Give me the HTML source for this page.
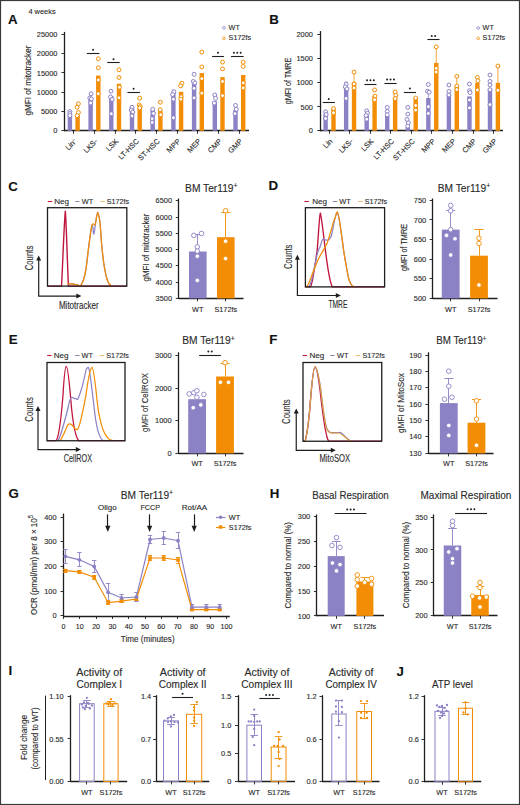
<!DOCTYPE html>
<html><head><meta charset="utf-8"><style>
html,body{margin:0;padding:0;background:#fff;}
svg{display:block;}
text{font-family:"Liberation Sans",sans-serif;stroke:#2a2a2a;stroke-width:0.12px;}
</style></head><body>
<svg width="520" height="805" viewBox="0 0 520 805">
<rect width="520" height="805" fill="#fff"/>
<rect x="0.5" y="0.5" width="519" height="804" fill="none" stroke="#3a3a3a" stroke-width="1.2"/>
<text x="8.00" y="23.80" font-size="13.3" text-anchor="start" fill="#111" font-weight="bold" >A</text>
<text x="269.30" y="24.30" font-size="13.3" text-anchor="start" fill="#111" font-weight="bold" >B</text>
<text x="8.20" y="190.50" font-size="13.3" text-anchor="start" fill="#111" font-weight="bold" >C</text>
<text x="268.40" y="189.70" font-size="13.3" text-anchor="start" fill="#111" font-weight="bold" >D</text>
<text x="8.80" y="343.70" font-size="13.3" text-anchor="start" fill="#111" font-weight="bold" >E</text>
<text x="269.30" y="343.70" font-size="13.3" text-anchor="start" fill="#111" font-weight="bold" >F</text>
<text x="8.60" y="498.00" font-size="13.3" text-anchor="start" fill="#111" font-weight="bold" >G</text>
<text x="269.80" y="498.40" font-size="13.3" text-anchor="start" fill="#111" font-weight="bold" >H</text>
<text x="8.50" y="675.00" font-size="13.3" text-anchor="start" fill="#111" font-weight="bold" >I</text>
<text x="396.50" y="675.50" font-size="13.3" text-anchor="start" fill="#111" font-weight="bold" >J</text>
<text x="28.40" y="14.20" font-size="7.8" text-anchor="start" fill="#2a2a2a" textLength="27.2" lengthAdjust="spacingAndGlyphs" >4 weeks</text>
<line x1="64.50" y1="31.90" x2="64.50" y2="131.30" stroke="#1e1e1e" stroke-width="1.3" />
<line x1="61.40" y1="34.50" x2="64.40" y2="34.50" stroke="#1e1e1e" stroke-width="0.9" />
<text x="57.40" y="37.00" font-size="7.4" text-anchor="end" fill="#2a2a2a" >25000</text>
<line x1="61.40" y1="53.50" x2="64.40" y2="53.50" stroke="#1e1e1e" stroke-width="0.9" />
<text x="57.40" y="56.30" font-size="7.4" text-anchor="end" fill="#2a2a2a" >20000</text>
<line x1="61.40" y1="72.50" x2="64.40" y2="72.50" stroke="#1e1e1e" stroke-width="0.9" />
<text x="57.40" y="75.55" font-size="7.4" text-anchor="end" fill="#2a2a2a" >15000</text>
<line x1="61.40" y1="92.50" x2="64.40" y2="92.50" stroke="#1e1e1e" stroke-width="0.9" />
<text x="57.40" y="94.80" font-size="7.4" text-anchor="end" fill="#2a2a2a" >10000</text>
<line x1="61.40" y1="111.50" x2="64.40" y2="111.50" stroke="#1e1e1e" stroke-width="0.9" />
<text x="57.40" y="114.10" font-size="7.4" text-anchor="end" fill="#2a2a2a" >5000</text>
<line x1="61.40" y1="130.50" x2="64.40" y2="130.50" stroke="#1e1e1e" stroke-width="0.9" />
<text x="57.40" y="133.40" font-size="7.4" text-anchor="end" fill="#2a2a2a" >0</text>
<line x1="64.40" y1="130.50" x2="249.00" y2="130.50" stroke="#1e1e1e" stroke-width="1.3" />
<text x="30.80" y="80.60" font-size="8.6" text-anchor="middle" fill="#2a2a2a" textLength="70" lengthAdjust="spacingAndGlyphs" transform="rotate(-90 30.80 80.60)" >gMFI of mitotracker</text>
<rect x="67.70" y="113.75" width="4.40" height="17.05" fill="#8b82c6" stroke="none" stroke-width="0"/>
<rect x="75.40" y="115.00" width="4.40" height="15.80" fill="#f28d05" stroke="none" stroke-width="0"/>
<line x1="73.50" y1="130.80" x2="73.50" y2="133.80" stroke="#1e1e1e" stroke-width="0.9" />
<rect x="88.40" y="98.75" width="4.40" height="32.05" fill="#8b82c6" stroke="none" stroke-width="0"/>
<rect x="96.10" y="75.60" width="4.40" height="55.20" fill="#f28d05" stroke="none" stroke-width="0"/>
<line x1="94.50" y1="130.80" x2="94.50" y2="133.80" stroke="#1e1e1e" stroke-width="0.9" />
<rect x="109.10" y="96.00" width="4.40" height="34.80" fill="#8b82c6" stroke="none" stroke-width="0"/>
<rect x="116.80" y="83.75" width="4.40" height="47.05" fill="#f28d05" stroke="none" stroke-width="0"/>
<line x1="115.50" y1="130.80" x2="115.50" y2="133.80" stroke="#1e1e1e" stroke-width="0.9" />
<rect x="129.80" y="106.60" width="4.40" height="24.20" fill="#8b82c6" stroke="none" stroke-width="0"/>
<rect x="137.50" y="108.00" width="4.40" height="22.80" fill="#f28d05" stroke="none" stroke-width="0"/>
<line x1="135.50" y1="130.80" x2="135.50" y2="133.80" stroke="#1e1e1e" stroke-width="0.9" />
<rect x="150.50" y="110.00" width="4.40" height="20.80" fill="#8b82c6" stroke="none" stroke-width="0"/>
<rect x="158.20" y="110.70" width="4.40" height="20.10" fill="#f28d05" stroke="none" stroke-width="0"/>
<line x1="156.50" y1="130.80" x2="156.50" y2="133.80" stroke="#1e1e1e" stroke-width="0.9" />
<rect x="171.20" y="92.50" width="4.40" height="38.30" fill="#8b82c6" stroke="none" stroke-width="0"/>
<rect x="178.90" y="91.80" width="4.40" height="39.00" fill="#f28d05" stroke="none" stroke-width="0"/>
<line x1="177.50" y1="130.80" x2="177.50" y2="133.80" stroke="#1e1e1e" stroke-width="0.9" />
<rect x="191.90" y="84.00" width="4.40" height="46.80" fill="#8b82c6" stroke="none" stroke-width="0"/>
<rect x="199.60" y="73.10" width="4.40" height="57.70" fill="#f28d05" stroke="none" stroke-width="0"/>
<line x1="197.50" y1="130.80" x2="197.50" y2="133.80" stroke="#1e1e1e" stroke-width="0.9" />
<rect x="212.60" y="101.40" width="4.40" height="29.40" fill="#8b82c6" stroke="none" stroke-width="0"/>
<rect x="220.30" y="77.10" width="4.40" height="53.70" fill="#f28d05" stroke="none" stroke-width="0"/>
<line x1="218.50" y1="130.80" x2="218.50" y2="133.80" stroke="#1e1e1e" stroke-width="0.9" />
<rect x="233.30" y="110.00" width="4.40" height="20.80" fill="#8b82c6" stroke="none" stroke-width="0"/>
<rect x="241.00" y="75.00" width="4.40" height="55.80" fill="#f28d05" stroke="none" stroke-width="0"/>
<line x1="239.50" y1="130.80" x2="239.50" y2="133.80" stroke="#1e1e1e" stroke-width="0.9" />
<line x1="173.40" y1="90.30" x2="173.40" y2="92.50" stroke="#8b82c6" stroke-width="0.8" />
<line x1="171.60" y1="90.30" x2="175.20" y2="90.30" stroke="#8b82c6" stroke-width="0.8" />
<circle cx="69.90" cy="111.50" r="1.95" fill="#fff" stroke="#8b82c6" stroke-width="1.0"/>
<circle cx="69.90" cy="113.50" r="1.95" fill="#fff" stroke="#8b82c6" stroke-width="1.0"/>
<circle cx="69.90" cy="115.50" r="1.95" fill="#fff" stroke="#8b82c6" stroke-width="1.0"/>
<circle cx="78.40" cy="103.75" r="1.95" fill="#fff" stroke="#f28d05" stroke-width="1.0"/>
<circle cx="77.10" cy="107.25" r="1.95" fill="#fff" stroke="#f28d05" stroke-width="1.0"/>
<circle cx="78.40" cy="112.50" r="1.95" fill="#fff" stroke="#f28d05" stroke-width="1.0"/>
<circle cx="77.10" cy="115.60" r="1.95" fill="#fff" stroke="#f28d05" stroke-width="1.0"/>
<circle cx="91.10" cy="93.75" r="1.95" fill="#fff" stroke="#8b82c6" stroke-width="1.0"/>
<circle cx="89.80" cy="98.00" r="1.95" fill="#fff" stroke="#8b82c6" stroke-width="1.0"/>
<circle cx="91.40" cy="99.00" r="1.95" fill="#fff" stroke="#8b82c6" stroke-width="1.0"/>
<circle cx="90.60" cy="103.00" r="1.95" fill="#fff" stroke="#8b82c6" stroke-width="1.0"/>
<circle cx="98.30" cy="58.75" r="1.95" fill="#fff" stroke="#f28d05" stroke-width="1.0"/>
<circle cx="98.30" cy="67.75" r="1.95" fill="#fff" stroke="#f28d05" stroke-width="1.0"/>
<circle cx="98.30" cy="80.00" r="1.95" fill="#fff" stroke="#f28d05" stroke-width="1.0"/>
<circle cx="98.30" cy="93.75" r="1.95" fill="#fff" stroke="#f28d05" stroke-width="1.0"/>
<circle cx="111.00" cy="91.25" r="1.95" fill="#fff" stroke="#8b82c6" stroke-width="1.0"/>
<circle cx="110.50" cy="96.90" r="1.95" fill="#fff" stroke="#8b82c6" stroke-width="1.0"/>
<circle cx="112.10" cy="99.40" r="1.95" fill="#fff" stroke="#8b82c6" stroke-width="1.0"/>
<circle cx="111.30" cy="113.75" r="1.95" fill="#fff" stroke="#8b82c6" stroke-width="1.0"/>
<circle cx="119.00" cy="69.75" r="1.95" fill="#fff" stroke="#f28d05" stroke-width="1.0"/>
<circle cx="119.00" cy="77.50" r="1.95" fill="#fff" stroke="#f28d05" stroke-width="1.0"/>
<circle cx="119.50" cy="87.25" r="1.95" fill="#fff" stroke="#f28d05" stroke-width="1.0"/>
<circle cx="119.00" cy="97.75" r="1.95" fill="#fff" stroke="#f28d05" stroke-width="1.0"/>
<circle cx="132.00" cy="107.30" r="1.95" fill="#fff" stroke="#8b82c6" stroke-width="1.0"/>
<circle cx="131.20" cy="110.00" r="1.95" fill="#fff" stroke="#8b82c6" stroke-width="1.0"/>
<circle cx="132.80" cy="112.00" r="1.95" fill="#fff" stroke="#8b82c6" stroke-width="1.0"/>
<circle cx="132.00" cy="116.00" r="1.95" fill="#fff" stroke="#8b82c6" stroke-width="1.0"/>
<circle cx="139.70" cy="98.10" r="1.95" fill="#fff" stroke="#f28d05" stroke-width="1.0"/>
<circle cx="139.20" cy="104.90" r="1.95" fill="#fff" stroke="#f28d05" stroke-width="1.0"/>
<circle cx="140.20" cy="106.60" r="1.95" fill="#fff" stroke="#f28d05" stroke-width="1.0"/>
<circle cx="139.70" cy="108.00" r="1.95" fill="#fff" stroke="#f28d05" stroke-width="1.0"/>
<circle cx="152.70" cy="109.30" r="1.95" fill="#fff" stroke="#8b82c6" stroke-width="1.0"/>
<circle cx="153.50" cy="113.40" r="1.95" fill="#fff" stroke="#8b82c6" stroke-width="1.0"/>
<circle cx="152.20" cy="118.70" r="1.95" fill="#fff" stroke="#8b82c6" stroke-width="1.0"/>
<circle cx="152.20" cy="122.40" r="1.95" fill="#fff" stroke="#8b82c6" stroke-width="1.0"/>
<circle cx="160.40" cy="102.20" r="1.95" fill="#fff" stroke="#f28d05" stroke-width="1.0"/>
<circle cx="160.10" cy="109.70" r="1.95" fill="#fff" stroke="#f28d05" stroke-width="1.0"/>
<circle cx="160.70" cy="114.70" r="1.95" fill="#fff" stroke="#f28d05" stroke-width="1.0"/>
<circle cx="173.90" cy="91.80" r="1.95" fill="#fff" stroke="#8b82c6" stroke-width="1.0"/>
<circle cx="172.60" cy="94.50" r="1.95" fill="#fff" stroke="#8b82c6" stroke-width="1.0"/>
<circle cx="173.40" cy="99.20" r="1.95" fill="#fff" stroke="#8b82c6" stroke-width="1.0"/>
<circle cx="173.40" cy="117.80" r="1.95" fill="#fff" stroke="#8b82c6" stroke-width="1.0"/>
<circle cx="181.90" cy="83.30" r="1.95" fill="#fff" stroke="#f28d05" stroke-width="1.0"/>
<circle cx="180.60" cy="85.80" r="1.95" fill="#fff" stroke="#f28d05" stroke-width="1.0"/>
<circle cx="181.10" cy="96.80" r="1.95" fill="#fff" stroke="#f28d05" stroke-width="1.0"/>
<circle cx="180.80" cy="99.20" r="1.95" fill="#fff" stroke="#f28d05" stroke-width="1.0"/>
<circle cx="194.10" cy="74.30" r="1.95" fill="#fff" stroke="#8b82c6" stroke-width="1.0"/>
<circle cx="193.30" cy="81.40" r="1.95" fill="#fff" stroke="#8b82c6" stroke-width="1.0"/>
<circle cx="194.90" cy="82.90" r="1.95" fill="#fff" stroke="#8b82c6" stroke-width="1.0"/>
<circle cx="194.10" cy="88.30" r="1.95" fill="#fff" stroke="#8b82c6" stroke-width="1.0"/>
<circle cx="194.10" cy="97.90" r="1.95" fill="#fff" stroke="#8b82c6" stroke-width="1.0"/>
<circle cx="201.80" cy="52.10" r="1.95" fill="#fff" stroke="#f28d05" stroke-width="1.0"/>
<circle cx="201.80" cy="66.90" r="1.95" fill="#fff" stroke="#f28d05" stroke-width="1.0"/>
<circle cx="201.80" cy="78.60" r="1.95" fill="#fff" stroke="#f28d05" stroke-width="1.0"/>
<circle cx="201.80" cy="93.10" r="1.95" fill="#fff" stroke="#f28d05" stroke-width="1.0"/>
<circle cx="214.80" cy="95.00" r="1.95" fill="#fff" stroke="#8b82c6" stroke-width="1.0"/>
<circle cx="215.60" cy="98.30" r="1.95" fill="#fff" stroke="#8b82c6" stroke-width="1.0"/>
<circle cx="214.30" cy="103.10" r="1.95" fill="#fff" stroke="#8b82c6" stroke-width="1.0"/>
<circle cx="222.50" cy="62.10" r="1.95" fill="#fff" stroke="#f28d05" stroke-width="1.0"/>
<circle cx="222.50" cy="68.90" r="1.95" fill="#fff" stroke="#f28d05" stroke-width="1.0"/>
<circle cx="222.50" cy="81.40" r="1.95" fill="#fff" stroke="#f28d05" stroke-width="1.0"/>
<circle cx="222.50" cy="95.70" r="1.95" fill="#fff" stroke="#f28d05" stroke-width="1.0"/>
<circle cx="235.50" cy="105.40" r="1.95" fill="#fff" stroke="#8b82c6" stroke-width="1.0"/>
<circle cx="236.30" cy="109.30" r="1.95" fill="#fff" stroke="#8b82c6" stroke-width="1.0"/>
<circle cx="235.00" cy="113.60" r="1.95" fill="#fff" stroke="#8b82c6" stroke-width="1.0"/>
<circle cx="243.20" cy="62.10" r="1.95" fill="#fff" stroke="#f28d05" stroke-width="1.0"/>
<circle cx="243.20" cy="66.40" r="1.95" fill="#fff" stroke="#f28d05" stroke-width="1.0"/>
<circle cx="243.20" cy="82.90" r="1.95" fill="#fff" stroke="#f28d05" stroke-width="1.0"/>
<circle cx="243.20" cy="87.90" r="1.95" fill="#fff" stroke="#f28d05" stroke-width="1.0"/>
<text x="77.40" y="141.80" font-size="7.4" text-anchor="end" fill="#2a2a2a" transform="rotate(-45 77.40 141.80)" >Lin<tspan font-size="4.5" dy="-2.5">−</tspan></text>
<text x="98.10" y="141.80" font-size="7.4" text-anchor="end" fill="#2a2a2a" transform="rotate(-45 98.10 141.80)" >LKS-</text>
<text x="118.80" y="141.80" font-size="7.4" text-anchor="end" fill="#2a2a2a" transform="rotate(-45 118.80 141.80)" >LSK</text>
<text x="139.50" y="141.80" font-size="7.4" text-anchor="end" fill="#2a2a2a" transform="rotate(-45 139.50 141.80)" >LT-HSC</text>
<text x="160.20" y="141.80" font-size="7.4" text-anchor="end" fill="#2a2a2a" transform="rotate(-45 160.20 141.80)" >ST-HSC</text>
<text x="180.90" y="141.80" font-size="7.4" text-anchor="end" fill="#2a2a2a" transform="rotate(-45 180.90 141.80)" >MPP</text>
<text x="201.60" y="141.80" font-size="7.4" text-anchor="end" fill="#2a2a2a" transform="rotate(-45 201.60 141.80)" >MEP</text>
<text x="222.30" y="141.80" font-size="7.4" text-anchor="end" fill="#2a2a2a" transform="rotate(-45 222.30 141.80)" >CMP</text>
<text x="243.00" y="141.80" font-size="7.4" text-anchor="end" fill="#2a2a2a" transform="rotate(-45 243.00 141.80)" >GMP</text>
<line x1="86.90" y1="53.50" x2="99.40" y2="53.50" stroke="#1e1e1e" stroke-width="1.1" />
<circle cx="93.15" cy="49.80" r="1.0" fill="#1e1e1e"/>
<line x1="107.25" y1="62.50" x2="119.75" y2="62.50" stroke="#1e1e1e" stroke-width="1.1" />
<circle cx="113.50" cy="59.20" r="1.0" fill="#1e1e1e"/>
<line x1="127.40" y1="92.50" x2="139.90" y2="92.50" stroke="#1e1e1e" stroke-width="1.1" />
<circle cx="133.65" cy="88.80" r="1.0" fill="#1e1e1e"/>
<line x1="212.10" y1="56.50" x2="223.90" y2="56.50" stroke="#1e1e1e" stroke-width="1.1" />
<circle cx="218.00" cy="52.70" r="1.0" fill="#1e1e1e"/>
<line x1="231.00" y1="56.50" x2="243.60" y2="56.50" stroke="#1e1e1e" stroke-width="1.1" />
<circle cx="233.90" cy="52.70" r="1.0" fill="#1e1e1e"/>
<circle cx="237.30" cy="52.70" r="1.0" fill="#1e1e1e"/>
<circle cx="240.70" cy="52.70" r="1.0" fill="#1e1e1e"/>
<circle cx="223.90" cy="27.80" r="1.35" fill="#fff" stroke="#8b82c6" stroke-width="0.8"/>
<text x="228.60" y="30.00" font-size="7.2" text-anchor="start" fill="#2a2a2a" >WT</text>
<circle cx="223.90" cy="38.30" r="1.35" fill="#fff" stroke="#f28d05" stroke-width="0.8"/>
<text x="228.60" y="40.20" font-size="7.2" text-anchor="start" fill="#2a2a2a" >S172fs</text>
<line x1="320.50" y1="31.10" x2="320.50" y2="131.30" stroke="#1e1e1e" stroke-width="1.3" />
<line x1="317.30" y1="34.50" x2="320.30" y2="34.50" stroke="#1e1e1e" stroke-width="0.9" />
<text x="312.90" y="36.90" font-size="7.4" text-anchor="end" fill="#2a2a2a" >2000</text>
<line x1="317.30" y1="58.50" x2="320.30" y2="58.50" stroke="#1e1e1e" stroke-width="0.9" />
<text x="312.90" y="61.10" font-size="7.4" text-anchor="end" fill="#2a2a2a" >1500</text>
<line x1="317.30" y1="82.50" x2="320.30" y2="82.50" stroke="#1e1e1e" stroke-width="0.9" />
<text x="312.90" y="85.30" font-size="7.4" text-anchor="end" fill="#2a2a2a" >1000</text>
<line x1="317.30" y1="106.50" x2="320.30" y2="106.50" stroke="#1e1e1e" stroke-width="0.9" />
<text x="312.90" y="109.50" font-size="7.4" text-anchor="end" fill="#2a2a2a" >500</text>
<line x1="317.30" y1="130.50" x2="320.30" y2="130.50" stroke="#1e1e1e" stroke-width="0.9" />
<text x="312.90" y="133.40" font-size="7.4" text-anchor="end" fill="#2a2a2a" >0</text>
<line x1="320.30" y1="130.50" x2="503.00" y2="130.50" stroke="#1e1e1e" stroke-width="1.3" />
<text x="290.60" y="81.00" font-size="8.6" text-anchor="middle" fill="#2a2a2a" textLength="46.5" lengthAdjust="spacingAndGlyphs" transform="rotate(-90 290.60 81.00)" >gMFI of TMRE</text>
<rect x="323.40" y="113.80" width="4.40" height="17.00" fill="#8b82c6" stroke="none" stroke-width="0"/>
<rect x="331.30" y="108.50" width="4.40" height="22.30" fill="#f28d05" stroke="none" stroke-width="0"/>
<line x1="329.50" y1="130.80" x2="329.50" y2="133.80" stroke="#1e1e1e" stroke-width="0.9" />
<rect x="343.95" y="88.30" width="4.40" height="42.50" fill="#8b82c6" stroke="none" stroke-width="0"/>
<rect x="351.85" y="82.20" width="4.40" height="48.60" fill="#f28d05" stroke="none" stroke-width="0"/>
<line x1="349.50" y1="130.80" x2="349.50" y2="133.80" stroke="#1e1e1e" stroke-width="0.9" />
<rect x="364.50" y="113.80" width="4.40" height="17.00" fill="#8b82c6" stroke="none" stroke-width="0"/>
<rect x="372.40" y="95.70" width="4.40" height="35.10" fill="#f28d05" stroke="none" stroke-width="0"/>
<line x1="370.50" y1="130.80" x2="370.50" y2="133.80" stroke="#1e1e1e" stroke-width="0.9" />
<rect x="385.05" y="116.00" width="4.40" height="14.80" fill="#8b82c6" stroke="none" stroke-width="0"/>
<rect x="392.95" y="97.30" width="4.40" height="33.50" fill="#f28d05" stroke="none" stroke-width="0"/>
<line x1="390.50" y1="130.80" x2="390.50" y2="133.80" stroke="#1e1e1e" stroke-width="0.9" />
<rect x="405.60" y="126.90" width="4.40" height="3.90" fill="#8b82c6" stroke="none" stroke-width="0"/>
<rect x="413.50" y="98.60" width="4.40" height="32.20" fill="#f28d05" stroke="none" stroke-width="0"/>
<line x1="411.50" y1="130.80" x2="411.50" y2="133.80" stroke="#1e1e1e" stroke-width="0.9" />
<rect x="426.15" y="98.00" width="4.40" height="32.80" fill="#8b82c6" stroke="none" stroke-width="0"/>
<rect x="434.05" y="63.00" width="4.40" height="67.80" fill="#f28d05" stroke="none" stroke-width="0"/>
<line x1="431.50" y1="130.80" x2="431.50" y2="133.80" stroke="#1e1e1e" stroke-width="0.9" />
<rect x="446.70" y="94.30" width="4.40" height="36.50" fill="#8b82c6" stroke="none" stroke-width="0"/>
<rect x="454.60" y="86.40" width="4.40" height="44.40" fill="#f28d05" stroke="none" stroke-width="0"/>
<line x1="452.50" y1="130.80" x2="452.50" y2="133.80" stroke="#1e1e1e" stroke-width="0.9" />
<rect x="467.25" y="96.40" width="4.40" height="34.40" fill="#8b82c6" stroke="none" stroke-width="0"/>
<rect x="475.15" y="82.90" width="4.40" height="47.90" fill="#f28d05" stroke="none" stroke-width="0"/>
<line x1="473.50" y1="130.80" x2="473.50" y2="133.80" stroke="#1e1e1e" stroke-width="0.9" />
<rect x="487.80" y="88.60" width="4.40" height="42.20" fill="#8b82c6" stroke="none" stroke-width="0"/>
<rect x="495.70" y="82.90" width="4.40" height="47.90" fill="#f28d05" stroke="none" stroke-width="0"/>
<line x1="493.50" y1="130.80" x2="493.50" y2="133.80" stroke="#1e1e1e" stroke-width="0.9" />
<line x1="346.15" y1="82.20" x2="346.15" y2="88.30" stroke="#8b82c6" stroke-width="0.8" />
<line x1="344.35" y1="82.20" x2="347.95" y2="82.20" stroke="#8b82c6" stroke-width="0.8" />
<line x1="354.05" y1="72.10" x2="354.05" y2="82.20" stroke="#f28d05" stroke-width="0.8" />
<line x1="352.25" y1="72.10" x2="355.85" y2="72.10" stroke="#f28d05" stroke-width="0.8" />
<line x1="415.70" y1="98.00" x2="415.70" y2="98.60" stroke="#f28d05" stroke-width="0.8" />
<line x1="413.90" y1="98.00" x2="417.50" y2="98.00" stroke="#f28d05" stroke-width="0.8" />
<line x1="428.35" y1="91.00" x2="428.35" y2="98.00" stroke="#8b82c6" stroke-width="0.8" />
<line x1="426.55" y1="91.00" x2="430.15" y2="91.00" stroke="#8b82c6" stroke-width="0.8" />
<line x1="436.25" y1="46.80" x2="436.25" y2="63.00" stroke="#f28d05" stroke-width="0.8" />
<line x1="434.45" y1="46.80" x2="438.05" y2="46.80" stroke="#f28d05" stroke-width="0.8" />
<line x1="456.80" y1="76.40" x2="456.80" y2="86.40" stroke="#f28d05" stroke-width="0.8" />
<line x1="455.00" y1="76.40" x2="458.60" y2="76.40" stroke="#f28d05" stroke-width="0.8" />
<line x1="497.90" y1="66.00" x2="497.90" y2="82.90" stroke="#f28d05" stroke-width="0.8" />
<line x1="496.10" y1="66.00" x2="499.70" y2="66.00" stroke="#f28d05" stroke-width="0.8" />
<circle cx="325.60" cy="111.80" r="1.95" fill="#fff" stroke="#8b82c6" stroke-width="1.0"/>
<circle cx="326.20" cy="114.50" r="1.95" fill="#fff" stroke="#8b82c6" stroke-width="1.0"/>
<circle cx="325.60" cy="118.50" r="1.95" fill="#fff" stroke="#8b82c6" stroke-width="1.0"/>
<circle cx="333.50" cy="108.50" r="1.95" fill="#fff" stroke="#f28d05" stroke-width="1.0"/>
<circle cx="333.50" cy="112.80" r="1.95" fill="#fff" stroke="#f28d05" stroke-width="1.0"/>
<circle cx="346.15" cy="84.20" r="1.95" fill="#fff" stroke="#8b82c6" stroke-width="1.0"/>
<circle cx="345.35" cy="86.90" r="1.95" fill="#fff" stroke="#8b82c6" stroke-width="1.0"/>
<circle cx="346.95" cy="88.90" r="1.95" fill="#fff" stroke="#8b82c6" stroke-width="1.0"/>
<circle cx="346.15" cy="98.40" r="1.95" fill="#fff" stroke="#8b82c6" stroke-width="1.0"/>
<circle cx="354.05" cy="72.10" r="1.95" fill="#fff" stroke="#f28d05" stroke-width="1.0"/>
<circle cx="354.05" cy="84.00" r="1.95" fill="#fff" stroke="#f28d05" stroke-width="1.0"/>
<circle cx="354.05" cy="88.00" r="1.95" fill="#fff" stroke="#f28d05" stroke-width="1.0"/>
<circle cx="366.70" cy="110.90" r="1.95" fill="#fff" stroke="#8b82c6" stroke-width="1.0"/>
<circle cx="367.50" cy="113.20" r="1.95" fill="#fff" stroke="#8b82c6" stroke-width="1.0"/>
<circle cx="366.10" cy="115.50" r="1.95" fill="#fff" stroke="#8b82c6" stroke-width="1.0"/>
<circle cx="366.70" cy="119.20" r="1.95" fill="#fff" stroke="#8b82c6" stroke-width="1.0"/>
<circle cx="374.60" cy="89.90" r="1.95" fill="#fff" stroke="#f28d05" stroke-width="1.0"/>
<circle cx="375.10" cy="96.10" r="1.95" fill="#fff" stroke="#f28d05" stroke-width="1.0"/>
<circle cx="374.60" cy="99.70" r="1.95" fill="#fff" stroke="#f28d05" stroke-width="1.0"/>
<circle cx="387.25" cy="107.40" r="1.95" fill="#fff" stroke="#8b82c6" stroke-width="1.0"/>
<circle cx="387.25" cy="111.40" r="1.95" fill="#fff" stroke="#8b82c6" stroke-width="1.0"/>
<circle cx="387.25" cy="114.80" r="1.95" fill="#fff" stroke="#8b82c6" stroke-width="1.0"/>
<circle cx="395.15" cy="91.90" r="1.95" fill="#fff" stroke="#f28d05" stroke-width="1.0"/>
<circle cx="395.75" cy="95.30" r="1.95" fill="#fff" stroke="#f28d05" stroke-width="1.0"/>
<circle cx="395.15" cy="98.60" r="1.95" fill="#fff" stroke="#f28d05" stroke-width="1.0"/>
<circle cx="407.80" cy="107.40" r="1.95" fill="#fff" stroke="#8b82c6" stroke-width="1.0"/>
<circle cx="407.80" cy="114.10" r="1.95" fill="#fff" stroke="#8b82c6" stroke-width="1.0"/>
<circle cx="407.00" cy="119.50" r="1.95" fill="#fff" stroke="#8b82c6" stroke-width="1.0"/>
<circle cx="408.40" cy="122.90" r="1.95" fill="#fff" stroke="#8b82c6" stroke-width="1.0"/>
<circle cx="407.80" cy="126.20" r="1.95" fill="#fff" stroke="#8b82c6" stroke-width="1.0"/>
<circle cx="415.70" cy="98.00" r="1.95" fill="#fff" stroke="#f28d05" stroke-width="1.0"/>
<circle cx="415.70" cy="105.40" r="1.95" fill="#fff" stroke="#f28d05" stroke-width="1.0"/>
<circle cx="415.70" cy="110.10" r="1.95" fill="#fff" stroke="#f28d05" stroke-width="1.0"/>
<circle cx="428.35" cy="84.50" r="1.95" fill="#fff" stroke="#8b82c6" stroke-width="1.0"/>
<circle cx="427.55" cy="91.20" r="1.95" fill="#fff" stroke="#8b82c6" stroke-width="1.0"/>
<circle cx="429.15" cy="92.20" r="1.95" fill="#fff" stroke="#8b82c6" stroke-width="1.0"/>
<circle cx="428.35" cy="106.70" r="1.95" fill="#fff" stroke="#8b82c6" stroke-width="1.0"/>
<circle cx="428.35" cy="113.40" r="1.95" fill="#fff" stroke="#8b82c6" stroke-width="1.0"/>
<circle cx="436.25" cy="46.80" r="1.95" fill="#fff" stroke="#f28d05" stroke-width="1.0"/>
<circle cx="436.25" cy="68.40" r="1.95" fill="#fff" stroke="#f28d05" stroke-width="1.0"/>
<circle cx="436.25" cy="72.00" r="1.95" fill="#fff" stroke="#f28d05" stroke-width="1.0"/>
<circle cx="448.90" cy="85.00" r="1.95" fill="#fff" stroke="#8b82c6" stroke-width="1.0"/>
<circle cx="448.90" cy="91.40" r="1.95" fill="#fff" stroke="#8b82c6" stroke-width="1.0"/>
<circle cx="448.90" cy="95.00" r="1.95" fill="#fff" stroke="#8b82c6" stroke-width="1.0"/>
<circle cx="456.80" cy="76.40" r="1.95" fill="#fff" stroke="#f28d05" stroke-width="1.0"/>
<circle cx="456.80" cy="86.00" r="1.95" fill="#fff" stroke="#f28d05" stroke-width="1.0"/>
<circle cx="456.80" cy="89.60" r="1.95" fill="#fff" stroke="#f28d05" stroke-width="1.0"/>
<circle cx="469.45" cy="84.00" r="1.95" fill="#fff" stroke="#8b82c6" stroke-width="1.0"/>
<circle cx="469.45" cy="90.70" r="1.95" fill="#fff" stroke="#8b82c6" stroke-width="1.0"/>
<circle cx="470.05" cy="92.60" r="1.95" fill="#fff" stroke="#8b82c6" stroke-width="1.0"/>
<circle cx="469.45" cy="100.00" r="1.95" fill="#fff" stroke="#8b82c6" stroke-width="1.0"/>
<circle cx="469.45" cy="107.90" r="1.95" fill="#fff" stroke="#8b82c6" stroke-width="1.0"/>
<circle cx="477.35" cy="77.40" r="1.95" fill="#fff" stroke="#f28d05" stroke-width="1.0"/>
<circle cx="477.95" cy="80.70" r="1.95" fill="#fff" stroke="#f28d05" stroke-width="1.0"/>
<circle cx="477.35" cy="90.00" r="1.95" fill="#fff" stroke="#f28d05" stroke-width="1.0"/>
<circle cx="490.00" cy="75.00" r="1.95" fill="#fff" stroke="#8b82c6" stroke-width="1.0"/>
<circle cx="490.00" cy="81.40" r="1.95" fill="#fff" stroke="#8b82c6" stroke-width="1.0"/>
<circle cx="490.00" cy="85.00" r="1.95" fill="#fff" stroke="#8b82c6" stroke-width="1.0"/>
<circle cx="490.00" cy="89.70" r="1.95" fill="#fff" stroke="#8b82c6" stroke-width="1.0"/>
<circle cx="490.00" cy="104.60" r="1.95" fill="#fff" stroke="#8b82c6" stroke-width="1.0"/>
<circle cx="497.90" cy="66.00" r="1.95" fill="#fff" stroke="#f28d05" stroke-width="1.0"/>
<circle cx="497.90" cy="90.30" r="1.95" fill="#fff" stroke="#f28d05" stroke-width="1.0"/>
<text x="333.00" y="141.80" font-size="7.4" text-anchor="end" fill="#2a2a2a" transform="rotate(-45 333.00 141.80)" >Lin</text>
<text x="353.55" y="141.80" font-size="7.4" text-anchor="end" fill="#2a2a2a" transform="rotate(-45 353.55 141.80)" >LKS-</text>
<text x="374.10" y="141.80" font-size="7.4" text-anchor="end" fill="#2a2a2a" transform="rotate(-45 374.10 141.80)" >LSK</text>
<text x="394.65" y="141.80" font-size="7.4" text-anchor="end" fill="#2a2a2a" transform="rotate(-45 394.65 141.80)" >LT-HSC</text>
<text x="415.20" y="141.80" font-size="7.4" text-anchor="end" fill="#2a2a2a" transform="rotate(-45 415.20 141.80)" >ST-HSC</text>
<text x="435.75" y="141.80" font-size="7.4" text-anchor="end" fill="#2a2a2a" transform="rotate(-45 435.75 141.80)" >MPP</text>
<text x="456.30" y="141.80" font-size="7.4" text-anchor="end" fill="#2a2a2a" transform="rotate(-45 456.30 141.80)" >MEP</text>
<text x="476.85" y="141.80" font-size="7.4" text-anchor="end" fill="#2a2a2a" transform="rotate(-45 476.85 141.80)" >CMP</text>
<text x="497.40" y="141.80" font-size="7.4" text-anchor="end" fill="#2a2a2a" transform="rotate(-45 497.40 141.80)" >GMP</text>
<line x1="322.70" y1="102.50" x2="334.80" y2="102.50" stroke="#1e1e1e" stroke-width="1.1" />
<circle cx="328.75" cy="99.10" r="1.0" fill="#1e1e1e"/>
<line x1="364.40" y1="84.50" x2="376.50" y2="84.50" stroke="#1e1e1e" stroke-width="1.1" />
<circle cx="367.05" cy="80.30" r="1.0" fill="#1e1e1e"/>
<circle cx="370.45" cy="80.30" r="1.0" fill="#1e1e1e"/>
<circle cx="373.85" cy="80.30" r="1.0" fill="#1e1e1e"/>
<line x1="384.50" y1="83.50" x2="396.60" y2="83.50" stroke="#1e1e1e" stroke-width="1.1" />
<circle cx="387.15" cy="79.50" r="1.0" fill="#1e1e1e"/>
<circle cx="390.55" cy="79.50" r="1.0" fill="#1e1e1e"/>
<circle cx="393.95" cy="79.50" r="1.0" fill="#1e1e1e"/>
<line x1="403.80" y1="92.50" x2="416.00" y2="92.50" stroke="#1e1e1e" stroke-width="1.1" />
<circle cx="409.90" cy="88.50" r="1.0" fill="#1e1e1e"/>
<line x1="427.40" y1="39.50" x2="439.50" y2="39.50" stroke="#1e1e1e" stroke-width="1.1" />
<circle cx="431.75" cy="36.00" r="1.0" fill="#1e1e1e"/>
<circle cx="435.15" cy="36.00" r="1.0" fill="#1e1e1e"/>
<circle cx="478.20" cy="28.00" r="1.35" fill="#fff" stroke="#8b82c6" stroke-width="0.8"/>
<text x="482.60" y="30.00" font-size="7.2" text-anchor="start" fill="#2a2a2a" >WT</text>
<circle cx="478.20" cy="38.30" r="1.35" fill="#fff" stroke="#f28d05" stroke-width="0.8"/>
<text x="482.60" y="40.20" font-size="7.2" text-anchor="start" fill="#2a2a2a" >S172fs</text>
<line x1="47.80" y1="201.50" x2="52.20" y2="201.50" stroke="#c0163d" stroke-width="1.1" />
<text x="54.30" y="203.60" font-size="7.6" text-anchor="start" fill="#2a2a2a" textLength="14.8" lengthAdjust="spacingAndGlyphs" >Neg</text>
<line x1="75.10" y1="201.50" x2="79.50" y2="201.50" stroke="#8a87a6" stroke-width="1.0" />
<text x="81.80" y="203.60" font-size="7.6" text-anchor="start" fill="#2a2a2a" textLength="11.5" lengthAdjust="spacingAndGlyphs" >WT</text>
<line x1="100.50" y1="201.50" x2="104.90" y2="201.50" stroke="#f1bf6e" stroke-width="1.0" />
<text x="106.70" y="203.60" font-size="7.6" text-anchor="start" fill="#2a2a2a" textLength="22.5" lengthAdjust="spacingAndGlyphs" >S172fs</text>
<path d="M47.5,286.1 L61.5,286.1 C62.5,270 64,225 65.3,211.3 C66.5,225 67.5,270 68.5,286.1 L126.8,286.1" fill="none" stroke="#c0163d" stroke-width="1.4" stroke-linejoin="round"/>
<path d="M67.4,283.6 C70,283.5 75,284 79,285.3 L80.5,285.6 C83,283 85,275 86.1,268.4 C87,262 88,252 88.7,247.2 C89.8,238 91,229 92,225.5 C92.5,224 93,228 93.5,233.5 C94,236 94.6,230 95.3,225 C96.2,218 97,212.5 97.7,212.3 C98.3,212.5 99,216 99.8,220.8 C100.6,228 101.2,240 101.9,247.2 C102.8,256 103.6,263 104.6,268.4 C105.8,275 107,281 108.8,283.5 C110,285 111,286 112.5,286" fill="none" stroke="#8b82c6" stroke-width="1.25" stroke-linejoin="round"/>
<path d="M67.4,283.6 C70,283.5 75,284 79,285.3 L80.5,285.6 C83,283 85,275 86.1,268.4 C87,262 88,252 88.7,247.2 C89.8,238 91,229 92,225 C92.6,223.5 93.3,223.5 94,224.5 C94.6,225.5 95.2,225 95.8,222 C96.5,218 97.2,212.5 97.7,212.3 C98.3,212.5 99,216 99.8,220.8 C100.6,228 101.2,240 101.9,247.2 C102.8,256 103.6,263 104.6,268.4 C105.8,275 107,281 108.8,283.5 C110,285 111,286 112.5,286" fill="none" stroke="#f28d05" stroke-width="1.25" stroke-linejoin="round"/>
<rect x="47.50" y="207.70" width="79.30" height="78.40" fill="none" stroke="#1e1e1e" stroke-width="1.3"/>
<path d="M38.70,259.40 L38.70,296.10 L77.40,296.10" fill="none" stroke="#1e1e1e" stroke-width="1.2"/>
<path d="M36.20,260.40 L38.70,255.40 L41.20,260.40 Z" fill="#1e1e1e"/>
<path d="M76.40,293.60 L81.40,296.10 L76.40,298.60 Z" fill="#1e1e1e"/>
<text x="33.40" y="258.00" font-size="10.0" text-anchor="middle" fill="#2a2a2a" textLength="24.6" lengthAdjust="spacingAndGlyphs" transform="rotate(-90 33.40 258.00)" >Counts</text>
<text x="58.90" y="309.00" font-size="10.2" text-anchor="start" fill="#2a2a2a" textLength="39.8" lengthAdjust="spacingAndGlyphs" >Mitotracker</text>
<line x1="304.40" y1="201.50" x2="308.80" y2="201.50" stroke="#c0163d" stroke-width="1.1" />
<text x="312.30" y="203.60" font-size="7.6" text-anchor="start" fill="#2a2a2a" textLength="14.8" lengthAdjust="spacingAndGlyphs" >Neg</text>
<line x1="332.70" y1="201.50" x2="337.10" y2="201.50" stroke="#8a87a6" stroke-width="1.0" />
<text x="339.30" y="203.60" font-size="7.6" text-anchor="start" fill="#2a2a2a" textLength="11.5" lengthAdjust="spacingAndGlyphs" >WT</text>
<line x1="358.20" y1="201.50" x2="362.60" y2="201.50" stroke="#f1bf6e" stroke-width="1.0" />
<text x="364.70" y="203.60" font-size="7.6" text-anchor="start" fill="#2a2a2a" textLength="22.5" lengthAdjust="spacingAndGlyphs" >S172fs</text>
<path d="M305.4,286.9 L310.5,286.9 C312.5,284 315,265 317.1,251.1 C318.5,235 319.5,214 320.3,213.1 C321.2,214 323.5,235 325.5,251.1 C327.5,267 330,283 332.4,286.9 L384.6,286.9" fill="none" stroke="#c0163d" stroke-width="1.35" stroke-linejoin="round"/>
<path d="M309,286.9 C311,285 313.5,272 315.5,262 C317,254 318.5,249 320,247 C321,244 322,240 322.6,239.6 C324,239 326,240.5 327.8,240.2 C329.5,240 330.5,238 331.3,236.1 C333,230 335,214 337,212.5 C339,214 340.5,228 342.2,239.6 C343.5,250 344.5,257 345.7,262.7 C347,270 348,277 349.1,280 C350.5,284 352,286.5 354,286.9" fill="none" stroke="#8b82c6" stroke-width="1.25" stroke-linejoin="round"/>
<path d="M306,286.9 C307,286.5 307.6,286 308.5,284 C310.5,279 312.5,273 314.5,268.4 C317,262 319,257 321.5,253.4 C324,249 326,246 327.2,243 C329,238 330.5,232 331.8,228 C333,224 334,219 335.3,217.7 C336,214 336.8,212 337.3,211.9 C339,213.5 340.5,228 342.2,239.6 C343.5,250 344.5,257 345.7,262.7 C347,270 348,277 349.1,280 C350.5,284 352,286.5 354.5,286.9" fill="none" stroke="#f28d05" stroke-width="1.25" stroke-linejoin="round"/>
<rect x="305.40" y="207.70" width="79.20" height="79.20" fill="none" stroke="#1e1e1e" stroke-width="1.3"/>
<path d="M297.40,258.70 L297.40,295.50 L336.80,295.50" fill="none" stroke="#1e1e1e" stroke-width="1.2"/>
<path d="M294.90,259.70 L297.40,254.70 L299.90,259.70 Z" fill="#1e1e1e"/>
<path d="M335.80,293.00 L340.80,295.50 L335.80,298.00 Z" fill="#1e1e1e"/>
<text x="291.80" y="256.80" font-size="10.0" text-anchor="middle" fill="#2a2a2a" textLength="24.6" lengthAdjust="spacingAndGlyphs" transform="rotate(-90 291.80 256.80)" >Counts</text>
<text x="328.40" y="308.20" font-size="10.0" text-anchor="start" fill="#2a2a2a" textLength="19.0" lengthAdjust="spacingAndGlyphs" >TMRE</text>
<line x1="47.20" y1="355.50" x2="51.60" y2="355.50" stroke="#c0163d" stroke-width="1.1" />
<text x="53.80" y="358.00" font-size="7.6" text-anchor="start" fill="#2a2a2a" textLength="14.8" lengthAdjust="spacingAndGlyphs" >Neg</text>
<line x1="75.20" y1="355.50" x2="79.60" y2="355.50" stroke="#8a87a6" stroke-width="1.0" />
<text x="81.50" y="358.00" font-size="7.6" text-anchor="start" fill="#2a2a2a" textLength="11.5" lengthAdjust="spacingAndGlyphs" >WT</text>
<line x1="99.70" y1="355.50" x2="104.10" y2="355.50" stroke="#f1bf6e" stroke-width="1.0" />
<text x="106.30" y="358.00" font-size="7.6" text-anchor="start" fill="#2a2a2a" textLength="22.5" lengthAdjust="spacingAndGlyphs" >S172fs</text>
<path d="M47,440.7 L56,440.7 C59,438 61,420 63,395 C64,378 65,366.5 66.25,366.3 C67.5,366.5 69,378 70.8,400 C72.5,420 75,436 78.5,440.5 L125,440.7" fill="none" stroke="#c0163d" stroke-width="1.3" stroke-linejoin="round"/>
<path d="M58,440.7 C61,436 65,420 68,408 C69.5,400 70.5,397.5 71.5,397.5 C73,397 74,399 75,398.5 C76,398 77,400.5 78,399 C81,392 84,380 86,370 C87,367.5 88,367.3 88.5,367.5 C90,370 92,390 95,415 C97,430 99,438 103,440.5 L108,440.7" fill="none" stroke="#8b82c6" stroke-width="1.25" stroke-linejoin="round"/>
<path d="M60,440.7 C63,437 66,428 68,424.5 C69,423.5 70.5,423.5 71.5,424.5 C73,426 75,430 77.5,429.5 C80,427 83,410 86,395 C88,380 90,368 92,367.3 C93.5,368 95,380 97,400 C99,418 103,432 107,437 C109,440 111,440.5 113,440.7" fill="none" stroke="#f28d05" stroke-width="1.25" stroke-linejoin="round"/>
<rect x="47.00" y="362.50" width="78.00" height="78.25" fill="none" stroke="#1e1e1e" stroke-width="1.3"/>
<path d="M38.00,410.00 L38.00,449.55 L76.80,449.55" fill="none" stroke="#1e1e1e" stroke-width="1.2"/>
<path d="M35.50,411.00 L38.00,406.00 L40.50,411.00 Z" fill="#1e1e1e"/>
<path d="M75.80,447.05 L80.80,449.55 L75.80,452.05 Z" fill="#1e1e1e"/>
<text x="32.70" y="409.40" font-size="10.0" text-anchor="middle" fill="#2a2a2a" textLength="24.6" lengthAdjust="spacingAndGlyphs" transform="rotate(-90 32.70 409.40)" >Counts</text>
<text x="63.75" y="462.30" font-size="10.0" text-anchor="start" fill="#2a2a2a" textLength="28.3" lengthAdjust="spacingAndGlyphs" >CellROX</text>
<line x1="302.70" y1="355.50" x2="307.10" y2="355.50" stroke="#c0163d" stroke-width="1.1" />
<text x="309.50" y="358.30" font-size="7.6" text-anchor="start" fill="#2a2a2a" textLength="14.8" lengthAdjust="spacingAndGlyphs" >Neg</text>
<line x1="330.20" y1="355.50" x2="334.60" y2="355.50" stroke="#8a87a6" stroke-width="1.0" />
<text x="337.00" y="358.30" font-size="7.6" text-anchor="start" fill="#2a2a2a" textLength="11.5" lengthAdjust="spacingAndGlyphs" >WT</text>
<line x1="355.70" y1="355.50" x2="360.10" y2="355.50" stroke="#f1bf6e" stroke-width="1.0" />
<text x="362.50" y="358.30" font-size="7.6" text-anchor="start" fill="#2a2a2a" textLength="22.5" lengthAdjust="spacingAndGlyphs" >S172fs</text>
<path d="M303,441.2 L305.2,441 C307.5,432 309,420 310.5,400 C312,382 313.5,367 315,366.9 C316.5,367 318,374 320,390 C322,408 324.5,428 327,437 C327.8,440 328.3,441 329,441.2 L381.75,441.2" fill="none" stroke="#c0163d" stroke-width="1.3" stroke-linejoin="round"/>
<path d="M304,441.2 L305.2,441 C307.5,432 309,420 310.5,400 C312,382 313.5,367 315,366.9 C316.5,367 318.5,374 320.8,390 C322.3,403 324.3,420 326.5,427.5 C328,431.5 329.5,432.7 331.5,432.7 C334,432.5 337,432.5 338.5,432.5 C340,432.3 341.5,432.8 343,434.5 C345,436.5 347,438.5 348.5,439.5 C349.5,440.3 350.2,440.8 351,441.1" fill="none" stroke="#8b82c6" stroke-width="1.25" stroke-linejoin="round"/>
<g opacity="0.8">
<path d="M304,441.2 L305.2,441 C307.5,432 309,420 310.5,400 C312,382 313.5,367 315,366.9 C316.5,367 318.5,374 320.8,390 C322.3,403 324.3,420 326.5,428 C328,432 329.5,433 331.5,433 C334,433 337,433 338.5,433 C340,433.3 341.5,434.2 343,435.5 C345,437 347,439 348.5,440 C349.5,440.6 350.2,441 351,441.1" fill="none" stroke="#eda226" stroke-width="1.25" stroke-linejoin="round"/>
</g>
<rect x="303.00" y="362.50" width="78.75" height="78.75" fill="none" stroke="#1e1e1e" stroke-width="1.3"/>
<path d="M296.25,412.50 L296.25,450.30 L331.80,450.30" fill="none" stroke="#1e1e1e" stroke-width="1.2"/>
<path d="M293.75,413.50 L296.25,408.50 L298.75,413.50 Z" fill="#1e1e1e"/>
<path d="M330.80,447.80 L335.80,450.30 L330.80,452.80 Z" fill="#1e1e1e"/>
<text x="290.00" y="411.60" font-size="10.0" text-anchor="middle" fill="#2a2a2a" textLength="24.6" lengthAdjust="spacingAndGlyphs" transform="rotate(-90 290.00 411.60)" >Counts</text>
<text x="319.50" y="462.30" font-size="10.0" text-anchor="start" fill="#2a2a2a" textLength="30.5" lengthAdjust="spacingAndGlyphs" >MitoSOX</text>
<line x1="178.50" y1="198.50" x2="178.50" y2="298.90" stroke="#1e1e1e" stroke-width="1.3" />
<line x1="175.80" y1="200.50" x2="178.80" y2="200.50" stroke="#1e1e1e" stroke-width="0.9" />
<text x="172.00" y="203.40" font-size="7.4" text-anchor="end" fill="#2a2a2a" >6500</text>
<line x1="175.80" y1="217.50" x2="178.80" y2="217.50" stroke="#1e1e1e" stroke-width="0.9" />
<text x="172.00" y="219.60" font-size="7.4" text-anchor="end" fill="#2a2a2a" >6000</text>
<line x1="175.80" y1="233.50" x2="178.80" y2="233.50" stroke="#1e1e1e" stroke-width="0.9" />
<text x="172.00" y="235.90" font-size="7.4" text-anchor="end" fill="#2a2a2a" >5500</text>
<line x1="175.80" y1="249.50" x2="178.80" y2="249.50" stroke="#1e1e1e" stroke-width="0.9" />
<text x="172.00" y="252.20" font-size="7.4" text-anchor="end" fill="#2a2a2a" >5000</text>
<line x1="175.80" y1="265.50" x2="178.80" y2="265.50" stroke="#1e1e1e" stroke-width="0.9" />
<text x="172.00" y="268.40" font-size="7.4" text-anchor="end" fill="#2a2a2a" >4500</text>
<line x1="175.80" y1="282.50" x2="178.80" y2="282.50" stroke="#1e1e1e" stroke-width="0.9" />
<text x="172.00" y="284.70" font-size="7.4" text-anchor="end" fill="#2a2a2a" >4000</text>
<line x1="175.80" y1="298.50" x2="178.80" y2="298.50" stroke="#1e1e1e" stroke-width="0.9" />
<text x="172.00" y="301.00" font-size="7.4" text-anchor="end" fill="#2a2a2a" >3500</text>
<line x1="178.80" y1="298.50" x2="243.50" y2="298.50" stroke="#1e1e1e" stroke-width="1.3" />
<rect x="189.00" y="251.50" width="17.60" height="46.90" fill="#8b82c6" stroke="none" stroke-width="0"/>
<rect x="217.00" y="237.20" width="17.60" height="61.20" fill="#f28d05" stroke="none" stroke-width="0"/>
<line x1="197.50" y1="234.20" x2="197.50" y2="251.50" stroke="#8b82c6" stroke-width="0.9" />
<line x1="193.20" y1="234.50" x2="202.40" y2="234.50" stroke="#8b82c6" stroke-width="0.9" />
<line x1="225.50" y1="212.30" x2="225.50" y2="237.20" stroke="#f28d05" stroke-width="0.9" />
<line x1="221.20" y1="212.50" x2="230.40" y2="212.50" stroke="#f28d05" stroke-width="0.9" />
<circle cx="193.80" cy="235.40" r="2.3" fill="#fff" stroke="#8b82c6" stroke-width="0.9"/>
<circle cx="201.50" cy="233.50" r="2.3" fill="#fff" stroke="#8b82c6" stroke-width="0.9"/>
<circle cx="197.30" cy="246.90" r="2.3" fill="#fff" stroke="#8b82c6" stroke-width="0.9"/>
<circle cx="197.30" cy="251.10" r="2.3" fill="#fff" stroke="#8b82c6" stroke-width="0.9"/>
<circle cx="197.30" cy="256.20" r="2.3" fill="#fff" stroke="#8b82c6" stroke-width="0.9"/>
<circle cx="197.30" cy="280.40" r="2.3" fill="#fff" stroke="#8b82c6" stroke-width="0.9"/>
<circle cx="225.60" cy="210.70" r="2.3" fill="#fff" stroke="#f28d05" stroke-width="0.9"/>
<circle cx="225.60" cy="241.20" r="2.3" fill="#fff" stroke="#f28d05" stroke-width="0.9"/>
<circle cx="225.60" cy="258.50" r="2.3" fill="#fff" stroke="#f28d05" stroke-width="0.9"/>
<line x1="197.50" y1="298.40" x2="197.50" y2="301.40" stroke="#1e1e1e" stroke-width="0.9" />
<line x1="225.50" y1="298.40" x2="225.50" y2="301.40" stroke="#1e1e1e" stroke-width="0.9" />
<text x="197.80" y="311.90" font-size="7.3" text-anchor="middle" fill="#2a2a2a" >WT</text>
<text x="225.80" y="311.90" font-size="7.3" text-anchor="middle" fill="#2a2a2a" >S172fs</text>
<text x="185.10" y="191.70" font-size="10.3" text-anchor="start" fill="#2a2a2a" textLength="52.5" lengthAdjust="spacingAndGlyphs" >BM Ter119<tspan font-size="7" dy="-3.6">+</tspan></text>
<text x="149.00" y="247.50" font-size="8.6" text-anchor="middle" fill="#2a2a2a" textLength="68" lengthAdjust="spacingAndGlyphs" transform="rotate(-90 149.00 247.50)" >gMFI of mitotracker</text>
<line x1="432.50" y1="198.50" x2="432.50" y2="298.90" stroke="#1e1e1e" stroke-width="1.3" />
<line x1="429.60" y1="200.50" x2="432.60" y2="200.50" stroke="#1e1e1e" stroke-width="0.9" />
<text x="426.20" y="202.90" font-size="7.4" text-anchor="end" fill="#2a2a2a" >750</text>
<line x1="429.60" y1="219.50" x2="432.60" y2="219.50" stroke="#1e1e1e" stroke-width="0.9" />
<text x="426.20" y="222.50" font-size="7.4" text-anchor="end" fill="#2a2a2a" >700</text>
<line x1="429.60" y1="239.50" x2="432.60" y2="239.50" stroke="#1e1e1e" stroke-width="0.9" />
<text x="426.20" y="242.10" font-size="7.4" text-anchor="end" fill="#2a2a2a" >650</text>
<line x1="429.60" y1="259.50" x2="432.60" y2="259.50" stroke="#1e1e1e" stroke-width="0.9" />
<text x="426.20" y="261.80" font-size="7.4" text-anchor="end" fill="#2a2a2a" >600</text>
<line x1="429.60" y1="278.50" x2="432.60" y2="278.50" stroke="#1e1e1e" stroke-width="0.9" />
<text x="426.20" y="281.40" font-size="7.4" text-anchor="end" fill="#2a2a2a" >550</text>
<line x1="429.60" y1="298.50" x2="432.60" y2="298.50" stroke="#1e1e1e" stroke-width="0.9" />
<text x="426.20" y="301.00" font-size="7.4" text-anchor="end" fill="#2a2a2a" >500</text>
<line x1="432.60" y1="298.50" x2="497.50" y2="298.50" stroke="#1e1e1e" stroke-width="1.3" />
<rect x="441.80" y="229.60" width="17.80" height="68.80" fill="#8b82c6" stroke="none" stroke-width="0"/>
<rect x="470.10" y="255.70" width="17.80" height="42.70" fill="#f28d05" stroke="none" stroke-width="0"/>
<line x1="450.50" y1="210.00" x2="450.50" y2="229.60" stroke="#8b82c6" stroke-width="0.9" />
<line x1="446.10" y1="210.50" x2="455.30" y2="210.50" stroke="#8b82c6" stroke-width="0.9" />
<line x1="479.50" y1="229.60" x2="479.50" y2="255.70" stroke="#f28d05" stroke-width="0.9" />
<line x1="474.40" y1="229.50" x2="483.60" y2="229.50" stroke="#f28d05" stroke-width="0.9" />
<circle cx="450.70" cy="205.40" r="2.3" fill="#fff" stroke="#8b82c6" stroke-width="0.9"/>
<circle cx="450.70" cy="210.70" r="2.3" fill="#fff" stroke="#8b82c6" stroke-width="0.9"/>
<circle cx="450.70" cy="229.60" r="2.3" fill="#fff" stroke="#8b82c6" stroke-width="0.9"/>
<circle cx="446.50" cy="235.40" r="2.3" fill="#fff" stroke="#8b82c6" stroke-width="0.9"/>
<circle cx="455.00" cy="238.80" r="2.3" fill="#fff" stroke="#8b82c6" stroke-width="0.9"/>
<circle cx="450.70" cy="255.00" r="2.3" fill="#fff" stroke="#8b82c6" stroke-width="0.9"/>
<circle cx="479.00" cy="238.20" r="2.3" fill="#fff" stroke="#f28d05" stroke-width="0.9"/>
<circle cx="479.00" cy="243.50" r="2.3" fill="#fff" stroke="#f28d05" stroke-width="0.9"/>
<circle cx="479.00" cy="285.00" r="2.3" fill="#fff" stroke="#f28d05" stroke-width="0.9"/>
<line x1="450.50" y1="298.40" x2="450.50" y2="301.40" stroke="#1e1e1e" stroke-width="0.9" />
<line x1="479.50" y1="298.40" x2="479.50" y2="301.40" stroke="#1e1e1e" stroke-width="0.9" />
<text x="450.70" y="311.90" font-size="7.3" text-anchor="middle" fill="#2a2a2a" >WT</text>
<text x="479.00" y="311.90" font-size="7.3" text-anchor="middle" fill="#2a2a2a" >S172fs</text>
<text x="437.70" y="191.70" font-size="10.3" text-anchor="start" fill="#2a2a2a" textLength="52.6" lengthAdjust="spacingAndGlyphs" >BM Ter119<tspan font-size="7" dy="-3.6">+</tspan></text>
<text x="407.20" y="247.50" font-size="8.6" text-anchor="middle" fill="#2a2a2a" textLength="47" lengthAdjust="spacingAndGlyphs" transform="rotate(-90 407.20 247.50)" >gMFI of TMRE</text>
<line x1="178.50" y1="352.30" x2="178.50" y2="453.90" stroke="#1e1e1e" stroke-width="1.3" />
<line x1="175.40" y1="355.50" x2="178.40" y2="355.50" stroke="#1e1e1e" stroke-width="0.9" />
<text x="171.50" y="357.90" font-size="7.4" text-anchor="end" fill="#2a2a2a" >3000</text>
<line x1="175.40" y1="388.50" x2="178.40" y2="388.50" stroke="#1e1e1e" stroke-width="0.9" />
<text x="171.50" y="390.60" font-size="7.4" text-anchor="end" fill="#2a2a2a" >2000</text>
<line x1="175.40" y1="420.50" x2="178.40" y2="420.50" stroke="#1e1e1e" stroke-width="0.9" />
<text x="171.50" y="423.30" font-size="7.4" text-anchor="end" fill="#2a2a2a" >1000</text>
<line x1="175.40" y1="453.50" x2="178.40" y2="453.50" stroke="#1e1e1e" stroke-width="0.9" />
<text x="171.50" y="456.00" font-size="7.4" text-anchor="end" fill="#2a2a2a" >0</text>
<line x1="178.40" y1="453.50" x2="243.50" y2="453.50" stroke="#1e1e1e" stroke-width="1.3" />
<rect x="188.20" y="399.20" width="17.80" height="54.20" fill="#8b82c6" stroke="none" stroke-width="0"/>
<rect x="216.10" y="376.50" width="17.80" height="76.90" fill="#f28d05" stroke="none" stroke-width="0"/>
<line x1="225.50" y1="363.80" x2="225.50" y2="376.50" stroke="#f28d05" stroke-width="0.9" />
<line x1="220.40" y1="363.50" x2="229.60" y2="363.50" stroke="#f28d05" stroke-width="0.9" />
<circle cx="189.20" cy="393.90" r="2.3" fill="#fff" stroke="#8b82c6" stroke-width="0.9"/>
<circle cx="193.80" cy="392.70" r="2.3" fill="#fff" stroke="#8b82c6" stroke-width="0.9"/>
<circle cx="196.90" cy="390.80" r="2.3" fill="#fff" stroke="#8b82c6" stroke-width="0.9"/>
<circle cx="203.80" cy="394.50" r="2.3" fill="#fff" stroke="#8b82c6" stroke-width="0.9"/>
<circle cx="196.90" cy="397.30" r="2.3" fill="#fff" stroke="#8b82c6" stroke-width="0.9"/>
<circle cx="193.20" cy="407.70" r="2.3" fill="#fff" stroke="#8b82c6" stroke-width="0.9"/>
<circle cx="200.80" cy="404.90" r="2.3" fill="#fff" stroke="#8b82c6" stroke-width="0.9"/>
<circle cx="225.00" cy="362.70" r="2.3" fill="#fff" stroke="#f28d05" stroke-width="0.9"/>
<circle cx="220.40" cy="382.30" r="2.3" fill="#fff" stroke="#f28d05" stroke-width="0.9"/>
<circle cx="228.50" cy="382.30" r="2.3" fill="#fff" stroke="#f28d05" stroke-width="0.9"/>
<line x1="197.50" y1="453.40" x2="197.50" y2="456.40" stroke="#1e1e1e" stroke-width="0.9" />
<line x1="225.50" y1="453.40" x2="225.50" y2="456.40" stroke="#1e1e1e" stroke-width="0.9" />
<text x="197.10" y="466.30" font-size="7.3" text-anchor="middle" fill="#2a2a2a" >WT</text>
<text x="225.00" y="466.30" font-size="7.3" text-anchor="middle" fill="#2a2a2a" >S172fs</text>
<text x="182.30" y="344.40" font-size="10.3" text-anchor="start" fill="#2a2a2a" textLength="52.4" lengthAdjust="spacingAndGlyphs" >BM Ter119<tspan font-size="7" dy="-3.6">+</tspan></text>
<text x="148.40" y="402.50" font-size="8.6" text-anchor="middle" fill="#2a2a2a" textLength="58.8" lengthAdjust="spacingAndGlyphs" transform="rotate(-90 148.40 402.50)" >gMFI of CellROX</text>
<line x1="199.20" y1="355.50" x2="220.90" y2="355.50" stroke="#1e1e1e" stroke-width="1.1" />
<circle cx="208.35" cy="351.60" r="1.0" fill="#1e1e1e"/>
<circle cx="211.75" cy="351.60" r="1.0" fill="#1e1e1e"/>
<line x1="428.50" y1="352.30" x2="428.50" y2="453.90" stroke="#1e1e1e" stroke-width="1.3" />
<line x1="425.40" y1="355.50" x2="428.40" y2="355.50" stroke="#1e1e1e" stroke-width="0.9" />
<text x="421.50" y="357.90" font-size="7.4" text-anchor="end" fill="#2a2a2a" >190</text>
<line x1="425.40" y1="371.50" x2="428.40" y2="371.50" stroke="#1e1e1e" stroke-width="0.9" />
<text x="421.50" y="374.10" font-size="7.4" text-anchor="end" fill="#2a2a2a" >180</text>
<line x1="425.40" y1="387.50" x2="428.40" y2="387.50" stroke="#1e1e1e" stroke-width="0.9" />
<text x="421.50" y="390.40" font-size="7.4" text-anchor="end" fill="#2a2a2a" >170</text>
<line x1="425.40" y1="404.50" x2="428.40" y2="404.50" stroke="#1e1e1e" stroke-width="0.9" />
<text x="421.50" y="406.60" font-size="7.4" text-anchor="end" fill="#2a2a2a" >160</text>
<line x1="425.40" y1="420.50" x2="428.40" y2="420.50" stroke="#1e1e1e" stroke-width="0.9" />
<text x="421.50" y="423.00" font-size="7.4" text-anchor="end" fill="#2a2a2a" >150</text>
<line x1="425.40" y1="436.50" x2="428.40" y2="436.50" stroke="#1e1e1e" stroke-width="0.9" />
<text x="421.50" y="439.30" font-size="7.4" text-anchor="end" fill="#2a2a2a" >140</text>
<line x1="425.40" y1="453.50" x2="428.40" y2="453.50" stroke="#1e1e1e" stroke-width="0.9" />
<text x="421.50" y="456.00" font-size="7.4" text-anchor="end" fill="#2a2a2a" >130</text>
<line x1="428.40" y1="453.50" x2="493.50" y2="453.50" stroke="#1e1e1e" stroke-width="1.3" />
<rect x="439.90" y="403.10" width="17.80" height="50.30" fill="#8b82c6" stroke="none" stroke-width="0"/>
<rect x="467.60" y="422.70" width="17.80" height="30.70" fill="#f28d05" stroke="none" stroke-width="0"/>
<line x1="448.50" y1="378.40" x2="448.50" y2="403.10" stroke="#8b82c6" stroke-width="0.9" />
<line x1="444.20" y1="378.50" x2="453.40" y2="378.50" stroke="#8b82c6" stroke-width="0.9" />
<line x1="476.50" y1="399.60" x2="476.50" y2="422.70" stroke="#f28d05" stroke-width="0.9" />
<line x1="471.90" y1="399.50" x2="481.10" y2="399.50" stroke="#f28d05" stroke-width="0.9" />
<circle cx="448.80" cy="371.20" r="2.3" fill="#fff" stroke="#8b82c6" stroke-width="0.9"/>
<circle cx="448.80" cy="386.20" r="2.3" fill="#fff" stroke="#8b82c6" stroke-width="0.9"/>
<circle cx="444.50" cy="399.20" r="2.3" fill="#fff" stroke="#8b82c6" stroke-width="0.9"/>
<circle cx="451.90" cy="397.30" r="2.3" fill="#fff" stroke="#8b82c6" stroke-width="0.9"/>
<circle cx="448.80" cy="425.50" r="2.3" fill="#fff" stroke="#8b82c6" stroke-width="0.9"/>
<circle cx="448.80" cy="435.40" r="2.3" fill="#fff" stroke="#8b82c6" stroke-width="0.9"/>
<circle cx="476.50" cy="400.80" r="2.3" fill="#fff" stroke="#f28d05" stroke-width="0.9"/>
<circle cx="476.50" cy="419.20" r="2.3" fill="#fff" stroke="#f28d05" stroke-width="0.9"/>
<circle cx="476.50" cy="445.30" r="2.3" fill="#fff" stroke="#f28d05" stroke-width="0.9"/>
<line x1="448.50" y1="453.40" x2="448.50" y2="456.40" stroke="#1e1e1e" stroke-width="0.9" />
<line x1="476.50" y1="453.40" x2="476.50" y2="456.40" stroke="#1e1e1e" stroke-width="0.9" />
<text x="448.80" y="466.30" font-size="7.3" text-anchor="middle" fill="#2a2a2a" >WT</text>
<text x="476.50" y="466.30" font-size="7.3" text-anchor="middle" fill="#2a2a2a" >S172fs</text>
<text x="436.20" y="344.40" font-size="10.3" text-anchor="start" fill="#2a2a2a" textLength="50.3" lengthAdjust="spacingAndGlyphs" >BM Ter119<tspan font-size="7" dy="-3.6">+</tspan></text>
<text x="404.20" y="403.00" font-size="8.6" text-anchor="middle" fill="#2a2a2a" textLength="60" lengthAdjust="spacingAndGlyphs" transform="rotate(-90 404.20 403.00)" >gMFI of MitoSox</text>
<line x1="63.50" y1="513.60" x2="63.50" y2="616.50" stroke="#1e1e1e" stroke-width="1.3" />
<line x1="60.50" y1="517.50" x2="63.50" y2="517.50" stroke="#1e1e1e" stroke-width="0.9" />
<text x="56.50" y="519.80" font-size="7.4" text-anchor="end" fill="#2a2a2a" >400</text>
<line x1="60.50" y1="541.50" x2="63.50" y2="541.50" stroke="#1e1e1e" stroke-width="0.9" />
<text x="56.50" y="544.45" font-size="7.4" text-anchor="end" fill="#2a2a2a" >300</text>
<line x1="60.50" y1="566.50" x2="63.50" y2="566.50" stroke="#1e1e1e" stroke-width="0.9" />
<text x="56.50" y="569.10" font-size="7.4" text-anchor="end" fill="#2a2a2a" >200</text>
<line x1="60.50" y1="591.50" x2="63.50" y2="591.50" stroke="#1e1e1e" stroke-width="0.9" />
<text x="56.50" y="593.75" font-size="7.4" text-anchor="end" fill="#2a2a2a" >100</text>
<line x1="60.50" y1="615.50" x2="63.50" y2="615.50" stroke="#1e1e1e" stroke-width="0.9" />
<text x="56.50" y="618.40" font-size="7.4" text-anchor="end" fill="#2a2a2a" >0</text>
<line x1="63.50" y1="616.50" x2="229.80" y2="616.50" stroke="#1e1e1e" stroke-width="1.3" />
<line x1="63.50" y1="616.00" x2="63.50" y2="619.00" stroke="#1e1e1e" stroke-width="0.9" />
<text x="63.50" y="628.90" font-size="7.1" text-anchor="middle" fill="#2a2a2a" >0</text>
<line x1="79.50" y1="616.00" x2="79.50" y2="619.00" stroke="#1e1e1e" stroke-width="0.9" />
<text x="79.80" y="628.90" font-size="7.1" text-anchor="middle" fill="#2a2a2a" >10</text>
<line x1="96.50" y1="616.00" x2="96.50" y2="619.00" stroke="#1e1e1e" stroke-width="0.9" />
<text x="96.10" y="628.90" font-size="7.1" text-anchor="middle" fill="#2a2a2a" >20</text>
<line x1="112.50" y1="616.00" x2="112.50" y2="619.00" stroke="#1e1e1e" stroke-width="0.9" />
<text x="112.40" y="628.90" font-size="7.1" text-anchor="middle" fill="#2a2a2a" >30</text>
<line x1="128.50" y1="616.00" x2="128.50" y2="619.00" stroke="#1e1e1e" stroke-width="0.9" />
<text x="128.70" y="628.90" font-size="7.1" text-anchor="middle" fill="#2a2a2a" >40</text>
<line x1="145.50" y1="616.00" x2="145.50" y2="619.00" stroke="#1e1e1e" stroke-width="0.9" />
<text x="145.00" y="628.90" font-size="7.1" text-anchor="middle" fill="#2a2a2a" >50</text>
<line x1="161.50" y1="616.00" x2="161.50" y2="619.00" stroke="#1e1e1e" stroke-width="0.9" />
<text x="161.30" y="628.90" font-size="7.1" text-anchor="middle" fill="#2a2a2a" >60</text>
<line x1="177.50" y1="616.00" x2="177.50" y2="619.00" stroke="#1e1e1e" stroke-width="0.9" />
<text x="177.60" y="628.90" font-size="7.1" text-anchor="middle" fill="#2a2a2a" >70</text>
<line x1="193.50" y1="616.00" x2="193.50" y2="619.00" stroke="#1e1e1e" stroke-width="0.9" />
<text x="193.90" y="628.90" font-size="7.1" text-anchor="middle" fill="#2a2a2a" >80</text>
<line x1="210.50" y1="616.00" x2="210.50" y2="619.00" stroke="#1e1e1e" stroke-width="0.9" />
<text x="210.20" y="628.90" font-size="7.1" text-anchor="middle" fill="#2a2a2a" >90</text>
<line x1="226.50" y1="616.00" x2="226.50" y2="619.00" stroke="#1e1e1e" stroke-width="0.9" />
<text x="226.50" y="628.90" font-size="7.1" text-anchor="middle" fill="#2a2a2a" >100</text>
<text x="120.80" y="642.10" font-size="8.8" text-anchor="start" fill="#2a2a2a" textLength="53.8" lengthAdjust="spacingAndGlyphs" >Time (minutes)</text>
<text x="36.60" y="565.00" font-size="9.2" text-anchor="middle" fill="#2a2a2a" textLength="100" lengthAdjust="spacingAndGlyphs" transform="rotate(-90 36.60 565.00)" >OCR (pmol/min) per 8 × 10<tspan font-size="6.6" dy="-3.4">5</tspan></text>
<text x="120.80" y="498.50" font-size="10.3" text-anchor="start" fill="#2a2a2a" textLength="52.3" lengthAdjust="spacingAndGlyphs" >BM Ter119<tspan font-size="7" dy="-3.6">+</tspan></text>
<text x="107.30" y="509.70" font-size="7.3" text-anchor="middle" fill="#2a2a2a" textLength="18.599999999999994" lengthAdjust="spacingAndGlyphs" >Oligo</text>
<line x1="107.50" y1="514.40" x2="107.50" y2="527.00" stroke="#1e1e1e" stroke-width="1.2" />
<path d="M105.20,525.7 L107.80,531.9 L110.40,525.7 Z" fill="#1e1e1e"/>
<text x="150.25" y="509.70" font-size="7.3" text-anchor="middle" fill="#2a2a2a" textLength="19.5" lengthAdjust="spacingAndGlyphs" >FCCP</text>
<line x1="149.50" y1="514.40" x2="149.50" y2="527.00" stroke="#1e1e1e" stroke-width="1.2" />
<path d="M147.00,525.7 L149.60,531.9 L152.20,525.7 Z" fill="#1e1e1e"/>
<text x="194.50" y="509.70" font-size="7.3" text-anchor="middle" fill="#2a2a2a" textLength="25.399999999999977" lengthAdjust="spacingAndGlyphs" >Rot/AA</text>
<line x1="194.50" y1="514.40" x2="194.50" y2="527.00" stroke="#1e1e1e" stroke-width="1.2" />
<path d="M191.60,525.7 L194.20,531.9 L196.80,525.7 Z" fill="#1e1e1e"/>
<line x1="215.90" y1="517.50" x2="225.40" y2="517.50" stroke="#8b82c6" stroke-width="1.2" />
<circle cx="220.60" cy="517.20" r="1.8" fill="#8b82c6" stroke="#8b82c6" stroke-width="0"/>
<text x="228.80" y="519.80" font-size="7.3" text-anchor="start" fill="#2a2a2a" >WT</text>
<line x1="215.90" y1="527.50" x2="225.40" y2="527.50" stroke="#f28d05" stroke-width="1.2" />
<rect x="218.90" y="525.30" width="3.40" height="3.40" fill="#f28d05" stroke="none" stroke-width="0"/>
<text x="228.80" y="529.60" font-size="7.3" text-anchor="start" fill="#2a2a2a" >S172fs</text>
<polyline points="65.40,556.30 79.40,559.80 94.20,566.50 108.10,592.30 121.60,598.00 136.40,597.00 150.00,539.50 163.75,538.00 178.00,540.75 192.00,607.20 206.30,607.20 219.70,607.20" fill="none" stroke="#8b82c6" stroke-width="1.2"/>
<line x1="65.50" y1="549.10" x2="65.50" y2="563.50" stroke="#8b82c6" stroke-width="0.9" />
<line x1="63.20" y1="549.50" x2="67.60" y2="549.50" stroke="#8b82c6" stroke-width="0.9" />
<line x1="63.20" y1="563.50" x2="67.60" y2="563.50" stroke="#8b82c6" stroke-width="0.9" />
<line x1="79.50" y1="552.80" x2="79.50" y2="566.80" stroke="#8b82c6" stroke-width="0.9" />
<line x1="77.20" y1="552.50" x2="81.60" y2="552.50" stroke="#8b82c6" stroke-width="0.9" />
<line x1="77.20" y1="566.50" x2="81.60" y2="566.50" stroke="#8b82c6" stroke-width="0.9" />
<line x1="94.50" y1="560.20" x2="94.50" y2="572.80" stroke="#8b82c6" stroke-width="0.9" />
<line x1="92.00" y1="560.50" x2="96.40" y2="560.50" stroke="#8b82c6" stroke-width="0.9" />
<line x1="92.00" y1="572.50" x2="96.40" y2="572.50" stroke="#8b82c6" stroke-width="0.9" />
<line x1="108.50" y1="583.30" x2="108.50" y2="601.30" stroke="#8b82c6" stroke-width="0.9" />
<line x1="105.90" y1="583.50" x2="110.30" y2="583.50" stroke="#8b82c6" stroke-width="0.9" />
<line x1="105.90" y1="601.50" x2="110.30" y2="601.50" stroke="#8b82c6" stroke-width="0.9" />
<line x1="121.50" y1="594.00" x2="121.50" y2="602.00" stroke="#8b82c6" stroke-width="0.9" />
<line x1="119.40" y1="594.50" x2="123.80" y2="594.50" stroke="#8b82c6" stroke-width="0.9" />
<line x1="119.40" y1="602.50" x2="123.80" y2="602.50" stroke="#8b82c6" stroke-width="0.9" />
<line x1="136.50" y1="592.50" x2="136.50" y2="601.50" stroke="#8b82c6" stroke-width="0.9" />
<line x1="134.20" y1="592.50" x2="138.60" y2="592.50" stroke="#8b82c6" stroke-width="0.9" />
<line x1="134.20" y1="601.50" x2="138.60" y2="601.50" stroke="#8b82c6" stroke-width="0.9" />
<line x1="150.50" y1="535.30" x2="150.50" y2="543.70" stroke="#8b82c6" stroke-width="0.9" />
<line x1="147.80" y1="535.50" x2="152.20" y2="535.50" stroke="#8b82c6" stroke-width="0.9" />
<line x1="147.80" y1="543.50" x2="152.20" y2="543.50" stroke="#8b82c6" stroke-width="0.9" />
<line x1="163.50" y1="531.20" x2="163.50" y2="544.80" stroke="#8b82c6" stroke-width="0.9" />
<line x1="161.55" y1="531.50" x2="165.95" y2="531.50" stroke="#8b82c6" stroke-width="0.9" />
<line x1="161.55" y1="544.50" x2="165.95" y2="544.50" stroke="#8b82c6" stroke-width="0.9" />
<line x1="178.50" y1="532.95" x2="178.50" y2="548.55" stroke="#8b82c6" stroke-width="0.9" />
<line x1="175.80" y1="532.50" x2="180.20" y2="532.50" stroke="#8b82c6" stroke-width="0.9" />
<line x1="175.80" y1="548.50" x2="180.20" y2="548.50" stroke="#8b82c6" stroke-width="0.9" />
<line x1="192.50" y1="604.70" x2="192.50" y2="609.70" stroke="#8b82c6" stroke-width="0.9" />
<line x1="189.80" y1="604.50" x2="194.20" y2="604.50" stroke="#8b82c6" stroke-width="0.9" />
<line x1="189.80" y1="609.50" x2="194.20" y2="609.50" stroke="#8b82c6" stroke-width="0.9" />
<line x1="206.50" y1="604.70" x2="206.50" y2="609.70" stroke="#8b82c6" stroke-width="0.9" />
<line x1="204.10" y1="604.50" x2="208.50" y2="604.50" stroke="#8b82c6" stroke-width="0.9" />
<line x1="204.10" y1="609.50" x2="208.50" y2="609.50" stroke="#8b82c6" stroke-width="0.9" />
<line x1="219.50" y1="604.70" x2="219.50" y2="609.70" stroke="#8b82c6" stroke-width="0.9" />
<line x1="217.50" y1="604.50" x2="221.90" y2="604.50" stroke="#8b82c6" stroke-width="0.9" />
<line x1="217.50" y1="609.50" x2="221.90" y2="609.50" stroke="#8b82c6" stroke-width="0.9" />
<polyline points="65.40,570.60 79.40,571.90 94.20,577.30 108.10,602.70 121.60,601.10 136.40,599.00 150.00,558.00 163.75,558.00 178.00,560.00 192.00,609.60 206.30,609.60 219.70,609.60" fill="none" stroke="#f28d05" stroke-width="1.2"/>
<line x1="65.50" y1="569.10" x2="65.50" y2="572.10" stroke="#f28d05" stroke-width="0.9" />
<line x1="63.20" y1="569.50" x2="67.60" y2="569.50" stroke="#f28d05" stroke-width="0.9" />
<line x1="63.20" y1="572.50" x2="67.60" y2="572.50" stroke="#f28d05" stroke-width="0.9" />
<rect x="63.60" y="568.80" width="3.60" height="3.60" fill="#f28d05" stroke="none" stroke-width="0"/>
<line x1="79.50" y1="570.40" x2="79.50" y2="573.40" stroke="#f28d05" stroke-width="0.9" />
<line x1="77.20" y1="570.50" x2="81.60" y2="570.50" stroke="#f28d05" stroke-width="0.9" />
<line x1="77.20" y1="573.50" x2="81.60" y2="573.50" stroke="#f28d05" stroke-width="0.9" />
<rect x="77.60" y="570.10" width="3.60" height="3.60" fill="#f28d05" stroke="none" stroke-width="0"/>
<line x1="94.50" y1="575.30" x2="94.50" y2="579.30" stroke="#f28d05" stroke-width="0.9" />
<line x1="92.00" y1="575.50" x2="96.40" y2="575.50" stroke="#f28d05" stroke-width="0.9" />
<line x1="92.00" y1="579.50" x2="96.40" y2="579.50" stroke="#f28d05" stroke-width="0.9" />
<rect x="92.40" y="575.50" width="3.60" height="3.60" fill="#f28d05" stroke="none" stroke-width="0"/>
<line x1="108.50" y1="600.70" x2="108.50" y2="604.70" stroke="#f28d05" stroke-width="0.9" />
<line x1="105.90" y1="600.50" x2="110.30" y2="600.50" stroke="#f28d05" stroke-width="0.9" />
<line x1="105.90" y1="604.50" x2="110.30" y2="604.50" stroke="#f28d05" stroke-width="0.9" />
<rect x="106.30" y="600.90" width="3.60" height="3.60" fill="#f28d05" stroke="none" stroke-width="0"/>
<line x1="121.50" y1="599.60" x2="121.50" y2="602.60" stroke="#f28d05" stroke-width="0.9" />
<line x1="119.40" y1="599.50" x2="123.80" y2="599.50" stroke="#f28d05" stroke-width="0.9" />
<line x1="119.40" y1="602.50" x2="123.80" y2="602.50" stroke="#f28d05" stroke-width="0.9" />
<rect x="119.80" y="599.30" width="3.60" height="3.60" fill="#f28d05" stroke="none" stroke-width="0"/>
<line x1="136.50" y1="597.50" x2="136.50" y2="600.50" stroke="#f28d05" stroke-width="0.9" />
<line x1="134.20" y1="597.50" x2="138.60" y2="597.50" stroke="#f28d05" stroke-width="0.9" />
<line x1="134.20" y1="600.50" x2="138.60" y2="600.50" stroke="#f28d05" stroke-width="0.9" />
<rect x="134.60" y="597.20" width="3.60" height="3.60" fill="#f28d05" stroke="none" stroke-width="0"/>
<line x1="150.50" y1="555.20" x2="150.50" y2="560.80" stroke="#f28d05" stroke-width="0.9" />
<line x1="147.80" y1="555.50" x2="152.20" y2="555.50" stroke="#f28d05" stroke-width="0.9" />
<line x1="147.80" y1="560.50" x2="152.20" y2="560.50" stroke="#f28d05" stroke-width="0.9" />
<rect x="148.20" y="556.20" width="3.60" height="3.60" fill="#f28d05" stroke="none" stroke-width="0"/>
<line x1="163.50" y1="555.20" x2="163.50" y2="560.80" stroke="#f28d05" stroke-width="0.9" />
<line x1="161.55" y1="555.50" x2="165.95" y2="555.50" stroke="#f28d05" stroke-width="0.9" />
<line x1="161.55" y1="560.50" x2="165.95" y2="560.50" stroke="#f28d05" stroke-width="0.9" />
<rect x="161.95" y="556.20" width="3.60" height="3.60" fill="#f28d05" stroke="none" stroke-width="0"/>
<line x1="178.50" y1="557.00" x2="178.50" y2="563.00" stroke="#f28d05" stroke-width="0.9" />
<line x1="175.80" y1="557.50" x2="180.20" y2="557.50" stroke="#f28d05" stroke-width="0.9" />
<line x1="175.80" y1="563.50" x2="180.20" y2="563.50" stroke="#f28d05" stroke-width="0.9" />
<rect x="176.20" y="558.20" width="3.60" height="3.60" fill="#f28d05" stroke="none" stroke-width="0"/>
<line x1="192.50" y1="608.40" x2="192.50" y2="610.80" stroke="#f28d05" stroke-width="0.9" />
<line x1="189.80" y1="608.50" x2="194.20" y2="608.50" stroke="#f28d05" stroke-width="0.9" />
<line x1="189.80" y1="610.50" x2="194.20" y2="610.50" stroke="#f28d05" stroke-width="0.9" />
<rect x="190.20" y="607.80" width="3.60" height="3.60" fill="#f28d05" stroke="none" stroke-width="0"/>
<line x1="206.50" y1="608.40" x2="206.50" y2="610.80" stroke="#f28d05" stroke-width="0.9" />
<line x1="204.10" y1="608.50" x2="208.50" y2="608.50" stroke="#f28d05" stroke-width="0.9" />
<line x1="204.10" y1="610.50" x2="208.50" y2="610.50" stroke="#f28d05" stroke-width="0.9" />
<rect x="204.50" y="607.80" width="3.60" height="3.60" fill="#f28d05" stroke="none" stroke-width="0"/>
<line x1="219.50" y1="608.40" x2="219.50" y2="610.80" stroke="#f28d05" stroke-width="0.9" />
<line x1="217.50" y1="608.50" x2="221.90" y2="608.50" stroke="#f28d05" stroke-width="0.9" />
<line x1="217.50" y1="610.50" x2="221.90" y2="610.50" stroke="#f28d05" stroke-width="0.9" />
<rect x="217.90" y="607.80" width="3.60" height="3.60" fill="#f28d05" stroke="none" stroke-width="0"/>
<circle cx="65.40" cy="556.30" r="1.9" fill="#8b82c6" stroke="#8b82c6" stroke-width="0"/>
<circle cx="79.40" cy="559.80" r="1.9" fill="#8b82c6" stroke="#8b82c6" stroke-width="0"/>
<circle cx="94.20" cy="566.50" r="1.9" fill="#8b82c6" stroke="#8b82c6" stroke-width="0"/>
<circle cx="108.10" cy="592.30" r="1.9" fill="#8b82c6" stroke="#8b82c6" stroke-width="0"/>
<circle cx="121.60" cy="598.00" r="1.9" fill="#8b82c6" stroke="#8b82c6" stroke-width="0"/>
<circle cx="136.40" cy="597.00" r="1.9" fill="#8b82c6" stroke="#8b82c6" stroke-width="0"/>
<circle cx="150.00" cy="539.50" r="1.9" fill="#8b82c6" stroke="#8b82c6" stroke-width="0"/>
<circle cx="163.75" cy="538.00" r="1.9" fill="#8b82c6" stroke="#8b82c6" stroke-width="0"/>
<circle cx="178.00" cy="540.75" r="1.9" fill="#8b82c6" stroke="#8b82c6" stroke-width="0"/>
<circle cx="192.00" cy="607.20" r="1.9" fill="#8b82c6" stroke="#8b82c6" stroke-width="0"/>
<circle cx="206.30" cy="607.20" r="1.9" fill="#8b82c6" stroke="#8b82c6" stroke-width="0"/>
<circle cx="219.70" cy="607.20" r="1.9" fill="#8b82c6" stroke="#8b82c6" stroke-width="0"/>
<line x1="316.50" y1="514.50" x2="316.50" y2="616.40" stroke="#1e1e1e" stroke-width="1.3" />
<line x1="313.90" y1="516.50" x2="316.90" y2="516.50" stroke="#1e1e1e" stroke-width="0.9" />
<text x="310.20" y="519.40" font-size="7.4" text-anchor="end" fill="#2a2a2a" >300</text>
<line x1="313.90" y1="541.50" x2="316.90" y2="541.50" stroke="#1e1e1e" stroke-width="0.9" />
<text x="310.20" y="544.20" font-size="7.4" text-anchor="end" fill="#2a2a2a" >250</text>
<line x1="313.90" y1="566.50" x2="316.90" y2="566.50" stroke="#1e1e1e" stroke-width="0.9" />
<text x="310.20" y="569.00" font-size="7.4" text-anchor="end" fill="#2a2a2a" >200</text>
<line x1="313.90" y1="591.50" x2="316.90" y2="591.50" stroke="#1e1e1e" stroke-width="0.9" />
<text x="310.20" y="593.70" font-size="7.4" text-anchor="end" fill="#2a2a2a" >150</text>
<line x1="313.90" y1="615.50" x2="316.90" y2="615.50" stroke="#1e1e1e" stroke-width="0.9" />
<text x="310.20" y="618.50" font-size="7.4" text-anchor="end" fill="#2a2a2a" >100</text>
<line x1="316.90" y1="615.50" x2="384.00" y2="615.50" stroke="#1e1e1e" stroke-width="1.3" />
<rect x="327.70" y="556.10" width="17.00" height="59.80" fill="#8b82c6" stroke="none" stroke-width="0"/>
<rect x="356.40" y="581.50" width="17.00" height="34.40" fill="#f28d05" stroke="none" stroke-width="0"/>
<line x1="336.50" y1="541.50" x2="336.50" y2="556.10" stroke="#8b82c6" stroke-width="0.9" />
<line x1="331.90" y1="541.50" x2="340.50" y2="541.50" stroke="#8b82c6" stroke-width="0.9" />
<line x1="364.50" y1="577.30" x2="364.50" y2="581.50" stroke="#f28d05" stroke-width="0.9" />
<line x1="360.60" y1="577.50" x2="369.20" y2="577.50" stroke="#f28d05" stroke-width="0.9" />
<circle cx="336.50" cy="537.60" r="2.3" fill="#fff" stroke="#8b82c6" stroke-width="0.9"/>
<circle cx="331.90" cy="545.50" r="2.3" fill="#fff" stroke="#8b82c6" stroke-width="0.9"/>
<circle cx="340.00" cy="547.30" r="2.3" fill="#fff" stroke="#8b82c6" stroke-width="0.9"/>
<circle cx="332.40" cy="563.00" r="2.3" fill="#fff" stroke="#8b82c6" stroke-width="0.9"/>
<circle cx="340.00" cy="564.60" r="2.3" fill="#fff" stroke="#8b82c6" stroke-width="0.9"/>
<circle cx="336.50" cy="570.90" r="2.3" fill="#fff" stroke="#8b82c6" stroke-width="0.9"/>
<circle cx="357.30" cy="575.00" r="2.3" fill="#fff" stroke="#f28d05" stroke-width="0.9"/>
<circle cx="357.30" cy="579.60" r="2.3" fill="#fff" stroke="#f28d05" stroke-width="0.9"/>
<circle cx="364.70" cy="582.40" r="2.3" fill="#fff" stroke="#f28d05" stroke-width="0.9"/>
<circle cx="371.60" cy="578.50" r="2.3" fill="#fff" stroke="#f28d05" stroke-width="0.9"/>
<circle cx="357.30" cy="586.10" r="2.3" fill="#fff" stroke="#f28d05" stroke-width="0.9"/>
<circle cx="371.60" cy="584.20" r="2.3" fill="#fff" stroke="#f28d05" stroke-width="0.9"/>
<line x1="336.50" y1="615.90" x2="336.50" y2="618.90" stroke="#1e1e1e" stroke-width="0.9" />
<line x1="364.50" y1="615.90" x2="364.50" y2="618.90" stroke="#1e1e1e" stroke-width="0.9" />
<text x="336.20" y="628.60" font-size="7.3" text-anchor="middle" fill="#2a2a2a" >WT</text>
<text x="364.90" y="628.60" font-size="7.3" text-anchor="middle" fill="#2a2a2a" >S172fs</text>
<text x="312.30" y="498.80" font-size="10.2" text-anchor="start" fill="#2a2a2a" textLength="76.5" lengthAdjust="spacingAndGlyphs" >Basal Respiration</text>
<text x="291.20" y="565.30" font-size="8.6" text-anchor="middle" fill="#2a2a2a" textLength="86.5" lengthAdjust="spacingAndGlyphs" transform="rotate(-90 291.20 565.30)" >Compared to normal (%)</text>
<line x1="334.70" y1="513.50" x2="366.50" y2="513.50" stroke="#1e1e1e" stroke-width="1.1" />
<circle cx="347.20" cy="509.50" r="1.0" fill="#1e1e1e"/>
<circle cx="350.60" cy="509.50" r="1.0" fill="#1e1e1e"/>
<circle cx="354.00" cy="509.50" r="1.0" fill="#1e1e1e"/>
<line x1="433.50" y1="514.50" x2="433.50" y2="616.25" stroke="#1e1e1e" stroke-width="1.3" />
<line x1="430.75" y1="517.50" x2="433.75" y2="517.50" stroke="#1e1e1e" stroke-width="0.9" />
<text x="427.50" y="519.60" font-size="7.4" text-anchor="end" fill="#2a2a2a" >350</text>
<line x1="430.75" y1="549.50" x2="433.75" y2="549.50" stroke="#1e1e1e" stroke-width="0.9" />
<text x="427.50" y="552.50" font-size="7.4" text-anchor="end" fill="#2a2a2a" >300</text>
<line x1="430.75" y1="582.50" x2="433.75" y2="582.50" stroke="#1e1e1e" stroke-width="0.9" />
<text x="427.50" y="585.40" font-size="7.4" text-anchor="end" fill="#2a2a2a" >250</text>
<line x1="430.75" y1="615.50" x2="433.75" y2="615.50" stroke="#1e1e1e" stroke-width="0.9" />
<text x="427.50" y="618.35" font-size="7.4" text-anchor="end" fill="#2a2a2a" >200</text>
<line x1="433.75" y1="615.50" x2="497.50" y2="615.50" stroke="#1e1e1e" stroke-width="1.3" />
<rect x="443.75" y="545.50" width="17.50" height="70.25" fill="#8b82c6" stroke="none" stroke-width="0"/>
<rect x="471.25" y="595.00" width="17.50" height="20.75" fill="#f28d05" stroke="none" stroke-width="0"/>
<line x1="452.50" y1="528.00" x2="452.50" y2="545.50" stroke="#8b82c6" stroke-width="0.9" />
<line x1="448.20" y1="528.50" x2="456.80" y2="528.50" stroke="#8b82c6" stroke-width="0.9" />
<line x1="480.50" y1="586.25" x2="480.50" y2="595.00" stroke="#f28d05" stroke-width="0.9" />
<line x1="475.70" y1="586.50" x2="484.30" y2="586.50" stroke="#f28d05" stroke-width="0.9" />
<circle cx="452.50" cy="521.25" r="2.3" fill="#fff" stroke="#8b82c6" stroke-width="0.9"/>
<circle cx="452.50" cy="525.50" r="2.3" fill="#fff" stroke="#8b82c6" stroke-width="0.9"/>
<circle cx="448.75" cy="552.00" r="2.3" fill="#fff" stroke="#8b82c6" stroke-width="0.9"/>
<circle cx="457.00" cy="548.75" r="2.3" fill="#fff" stroke="#8b82c6" stroke-width="0.9"/>
<circle cx="452.50" cy="558.75" r="2.3" fill="#fff" stroke="#8b82c6" stroke-width="0.9"/>
<circle cx="452.50" cy="563.00" r="2.3" fill="#fff" stroke="#8b82c6" stroke-width="0.9"/>
<circle cx="480.00" cy="582.50" r="2.3" fill="#fff" stroke="#f28d05" stroke-width="0.9"/>
<circle cx="480.00" cy="587.50" r="2.3" fill="#fff" stroke="#f28d05" stroke-width="0.9"/>
<circle cx="472.50" cy="596.25" r="2.3" fill="#fff" stroke="#f28d05" stroke-width="0.9"/>
<circle cx="479.50" cy="598.00" r="2.3" fill="#fff" stroke="#f28d05" stroke-width="0.9"/>
<circle cx="486.25" cy="597.00" r="2.3" fill="#fff" stroke="#f28d05" stroke-width="0.9"/>
<circle cx="480.00" cy="607.00" r="2.3" fill="#fff" stroke="#f28d05" stroke-width="0.9"/>
<line x1="452.50" y1="615.75" x2="452.50" y2="618.75" stroke="#1e1e1e" stroke-width="0.9" />
<line x1="480.50" y1="615.75" x2="480.50" y2="618.75" stroke="#1e1e1e" stroke-width="0.9" />
<text x="452.50" y="628.60" font-size="7.3" text-anchor="middle" fill="#2a2a2a" >WT</text>
<text x="480.00" y="628.60" font-size="7.3" text-anchor="middle" fill="#2a2a2a" >S172fs</text>
<text x="420.50" y="498.80" font-size="10.2" text-anchor="start" fill="#2a2a2a" textLength="90.8" lengthAdjust="spacingAndGlyphs" >Maximal Respiration</text>
<text x="409.30" y="565.00" font-size="8.6" text-anchor="middle" fill="#2a2a2a" textLength="86.5" lengthAdjust="spacingAndGlyphs" transform="rotate(-90 409.30 565.00)" >Compared to normal (%)</text>
<line x1="455.00" y1="513.50" x2="487.00" y2="513.50" stroke="#1e1e1e" stroke-width="1.1" />
<circle cx="467.60" cy="509.30" r="1.0" fill="#1e1e1e"/>
<circle cx="471.00" cy="509.30" r="1.0" fill="#1e1e1e"/>
<circle cx="474.40" cy="509.30" r="1.0" fill="#1e1e1e"/>
<line x1="70.50" y1="695.20" x2="70.50" y2="782.00" stroke="#1e1e1e" stroke-width="1.3" />
<line x1="67.60" y1="696.50" x2="70.60" y2="696.50" stroke="#1e1e1e" stroke-width="0.9" />
<text x="63.70" y="698.80" font-size="7.4" text-anchor="end" fill="#2a2a2a" >1.10</text>
<line x1="67.60" y1="738.50" x2="70.60" y2="738.50" stroke="#1e1e1e" stroke-width="0.9" />
<text x="63.70" y="741.50" font-size="7.4" text-anchor="end" fill="#2a2a2a" >0.55</text>
<line x1="67.60" y1="781.50" x2="70.60" y2="781.50" stroke="#1e1e1e" stroke-width="0.9" />
<text x="63.70" y="784.10" font-size="7.4" text-anchor="end" fill="#2a2a2a" >0.00</text>
<line x1="70.60" y1="781.50" x2="127.20" y2="781.50" stroke="#1e1e1e" stroke-width="1.3" />
<rect x="79.60" y="703.70" width="14.60" height="77.80" fill="none" stroke="#8b82c6" stroke-width="1.0"/>
<rect x="103.80" y="703.70" width="14.30" height="77.80" fill="none" stroke="#f28d05" stroke-width="1.0"/>
<line x1="86.50" y1="700.50" x2="86.50" y2="707.00" stroke="#8b82c6" stroke-width="0.9" />
<line x1="83.10" y1="700.50" x2="90.70" y2="700.50" stroke="#8b82c6" stroke-width="0.9" />
<line x1="83.10" y1="707.50" x2="90.70" y2="707.50" stroke="#8b82c6" stroke-width="0.9" />
<line x1="110.50" y1="701.50" x2="110.50" y2="706.00" stroke="#f28d05" stroke-width="0.9" />
<line x1="107.15" y1="701.50" x2="114.75" y2="701.50" stroke="#f28d05" stroke-width="0.9" />
<line x1="107.15" y1="706.50" x2="114.75" y2="706.50" stroke="#f28d05" stroke-width="0.9" />
<circle cx="81.90" cy="704.50" r="1.15" fill="#8b82c6" stroke="#8b82c6" stroke-width="0"/>
<circle cx="83.90" cy="702.50" r="1.15" fill="#8b82c6" stroke="#8b82c6" stroke-width="0"/>
<circle cx="85.90" cy="706.00" r="1.15" fill="#8b82c6" stroke="#8b82c6" stroke-width="0"/>
<circle cx="87.90" cy="703.00" r="1.15" fill="#8b82c6" stroke="#8b82c6" stroke-width="0"/>
<circle cx="89.90" cy="708.50" r="1.15" fill="#8b82c6" stroke="#8b82c6" stroke-width="0"/>
<circle cx="91.90" cy="705.50" r="1.15" fill="#8b82c6" stroke="#8b82c6" stroke-width="0"/>
<circle cx="86.90" cy="697.80" r="1.15" fill="#8b82c6" stroke="#8b82c6" stroke-width="0"/>
<circle cx="84.90" cy="709.20" r="1.15" fill="#8b82c6" stroke="#8b82c6" stroke-width="0"/>
<circle cx="88.90" cy="703.80" r="1.15" fill="#8b82c6" stroke="#8b82c6" stroke-width="0"/>
<circle cx="82.90" cy="707.50" r="1.15" fill="#8b82c6" stroke="#8b82c6" stroke-width="0"/>
<circle cx="106.95" cy="703.50" r="1.15" fill="#f28d05" stroke="#f28d05" stroke-width="0"/>
<circle cx="109.45" cy="702.20" r="1.15" fill="#f28d05" stroke="#f28d05" stroke-width="0"/>
<circle cx="112.45" cy="705.20" r="1.15" fill="#f28d05" stroke="#f28d05" stroke-width="0"/>
<circle cx="114.95" cy="703.40" r="1.15" fill="#f28d05" stroke="#f28d05" stroke-width="0"/>
<circle cx="110.95" cy="699.20" r="1.15" fill="#f28d05" stroke="#f28d05" stroke-width="0"/>
<circle cx="108.45" cy="704.50" r="1.15" fill="#f28d05" stroke="#f28d05" stroke-width="0"/>
<line x1="86.50" y1="781.50" x2="86.50" y2="784.50" stroke="#1e1e1e" stroke-width="0.9" />
<line x1="110.50" y1="781.50" x2="110.50" y2="784.50" stroke="#1e1e1e" stroke-width="0.9" />
<text x="86.90" y="795.20" font-size="7.3" text-anchor="middle" fill="#2a2a2a" >WT</text>
<text x="110.95" y="795.20" font-size="7.3" text-anchor="middle" fill="#2a2a2a" >S172fs</text>
<text x="99.30" y="675.70" font-size="10.0" text-anchor="middle" fill="#2a2a2a" textLength="46.0" lengthAdjust="spacingAndGlyphs" >Activity of</text>
<text x="99.30" y="687.70" font-size="10.0" text-anchor="middle" fill="#2a2a2a" textLength="45.6" lengthAdjust="spacingAndGlyphs" >Complex I</text>
<line x1="45.50" y1="695.60" x2="45.50" y2="780.00" stroke="#1e1e1e" stroke-width="1.0" />
<text x="26.80" y="737.50" font-size="8.6" text-anchor="middle" fill="#2a2a2a" textLength="45" lengthAdjust="spacingAndGlyphs" transform="rotate(-90 26.80 737.50)" >Fold change</text>
<text x="37.80" y="738.50" font-size="8.6" text-anchor="middle" fill="#2a2a2a" textLength="62" lengthAdjust="spacingAndGlyphs" transform="rotate(-90 37.80 738.50)" >(compared to WT)</text>
<line x1="156.50" y1="695.20" x2="156.50" y2="781.90" stroke="#1e1e1e" stroke-width="1.3" />
<line x1="153.10" y1="696.50" x2="156.10" y2="696.50" stroke="#1e1e1e" stroke-width="0.9" />
<text x="151.20" y="699.10" font-size="7.4" text-anchor="end" fill="#2a2a2a" >1.4</text>
<line x1="153.10" y1="739.50" x2="156.10" y2="739.50" stroke="#1e1e1e" stroke-width="0.9" />
<text x="151.20" y="741.60" font-size="7.4" text-anchor="end" fill="#2a2a2a" >0.7</text>
<line x1="153.10" y1="781.50" x2="156.10" y2="781.50" stroke="#1e1e1e" stroke-width="0.9" />
<text x="151.20" y="784.00" font-size="7.4" text-anchor="end" fill="#2a2a2a" >0.0</text>
<line x1="156.10" y1="781.50" x2="209.30" y2="781.50" stroke="#1e1e1e" stroke-width="1.3" />
<rect x="163.50" y="720.90" width="15.00" height="60.50" fill="none" stroke="#8b82c6" stroke-width="1.0"/>
<rect x="186.50" y="714.30" width="15.20" height="67.10" fill="none" stroke="#f28d05" stroke-width="1.0"/>
<line x1="171.50" y1="717.70" x2="171.50" y2="724.40" stroke="#8b82c6" stroke-width="0.9" />
<line x1="167.20" y1="717.50" x2="174.80" y2="717.50" stroke="#8b82c6" stroke-width="0.9" />
<line x1="167.20" y1="724.50" x2="174.80" y2="724.50" stroke="#8b82c6" stroke-width="0.9" />
<line x1="194.50" y1="704.30" x2="194.50" y2="723.30" stroke="#f28d05" stroke-width="0.9" />
<line x1="190.30" y1="704.50" x2="197.90" y2="704.50" stroke="#f28d05" stroke-width="0.9" />
<line x1="190.30" y1="723.50" x2="197.90" y2="723.50" stroke="#f28d05" stroke-width="0.9" />
<circle cx="174.00" cy="714.90" r="1.15" fill="#8b82c6" stroke="#8b82c6" stroke-width="0"/>
<circle cx="167.70" cy="718.60" r="1.15" fill="#8b82c6" stroke="#8b82c6" stroke-width="0"/>
<circle cx="170.90" cy="716.50" r="1.15" fill="#8b82c6" stroke="#8b82c6" stroke-width="0"/>
<circle cx="164.50" cy="720.70" r="1.15" fill="#8b82c6" stroke="#8b82c6" stroke-width="0"/>
<circle cx="171.00" cy="721.50" r="1.15" fill="#8b82c6" stroke="#8b82c6" stroke-width="0"/>
<circle cx="174.50" cy="722.00" r="1.15" fill="#8b82c6" stroke="#8b82c6" stroke-width="0"/>
<circle cx="177.80" cy="722.30" r="1.15" fill="#8b82c6" stroke="#8b82c6" stroke-width="0"/>
<circle cx="168.00" cy="722.00" r="1.15" fill="#8b82c6" stroke="#8b82c6" stroke-width="0"/>
<circle cx="170.90" cy="726.50" r="1.15" fill="#8b82c6" stroke="#8b82c6" stroke-width="0"/>
<circle cx="196.80" cy="702.20" r="1.15" fill="#f28d05" stroke="#f28d05" stroke-width="0"/>
<circle cx="194.10" cy="707.50" r="1.15" fill="#f28d05" stroke="#f28d05" stroke-width="0"/>
<circle cx="194.10" cy="710.60" r="1.15" fill="#f28d05" stroke="#f28d05" stroke-width="0"/>
<circle cx="194.10" cy="717.50" r="1.15" fill="#f28d05" stroke="#f28d05" stroke-width="0"/>
<circle cx="194.10" cy="720.70" r="1.15" fill="#f28d05" stroke="#f28d05" stroke-width="0"/>
<circle cx="194.10" cy="726.00" r="1.15" fill="#f28d05" stroke="#f28d05" stroke-width="0"/>
<line x1="171.50" y1="781.40" x2="171.50" y2="784.40" stroke="#1e1e1e" stroke-width="0.9" />
<line x1="194.50" y1="781.40" x2="194.50" y2="784.40" stroke="#1e1e1e" stroke-width="0.9" />
<text x="171.00" y="795.20" font-size="7.3" text-anchor="middle" fill="#2a2a2a" >WT</text>
<text x="194.10" y="795.20" font-size="7.3" text-anchor="middle" fill="#2a2a2a" >S172fs</text>
<text x="182.70" y="675.70" font-size="10.0" text-anchor="middle" fill="#2a2a2a" textLength="45.8" lengthAdjust="spacingAndGlyphs" >Activity of</text>
<text x="182.70" y="687.70" font-size="10.0" text-anchor="middle" fill="#2a2a2a" textLength="47.8" lengthAdjust="spacingAndGlyphs" >Complex II</text>
<line x1="172.10" y1="697.50" x2="193.00" y2="697.50" stroke="#1e1e1e" stroke-width="1.1" />
<circle cx="182.55" cy="693.70" r="1.0" fill="#1e1e1e"/>
<line x1="238.50" y1="695.20" x2="238.50" y2="781.90" stroke="#1e1e1e" stroke-width="1.3" />
<line x1="235.00" y1="696.50" x2="238.00" y2="696.50" stroke="#1e1e1e" stroke-width="0.9" />
<text x="231.30" y="699.10" font-size="7.4" text-anchor="end" fill="#2a2a2a" >1.5</text>
<line x1="235.00" y1="725.50" x2="238.00" y2="725.50" stroke="#1e1e1e" stroke-width="0.9" />
<text x="231.30" y="727.60" font-size="7.4" text-anchor="end" fill="#2a2a2a" >1.0</text>
<line x1="235.00" y1="753.50" x2="238.00" y2="753.50" stroke="#1e1e1e" stroke-width="0.9" />
<text x="231.30" y="755.80" font-size="7.4" text-anchor="end" fill="#2a2a2a" >0.5</text>
<line x1="235.00" y1="781.50" x2="238.00" y2="781.50" stroke="#1e1e1e" stroke-width="0.9" />
<text x="231.30" y="784.00" font-size="7.4" text-anchor="end" fill="#2a2a2a" >0</text>
<line x1="238.00" y1="781.50" x2="295.00" y2="781.50" stroke="#1e1e1e" stroke-width="1.3" />
<rect x="246.90" y="725.20" width="14.60" height="56.20" fill="none" stroke="#8b82c6" stroke-width="1.0"/>
<rect x="271.20" y="747.00" width="14.80" height="34.40" fill="none" stroke="#f28d05" stroke-width="1.0"/>
<line x1="254.50" y1="714.30" x2="254.50" y2="735.70" stroke="#8b82c6" stroke-width="0.9" />
<line x1="250.40" y1="714.50" x2="258.00" y2="714.50" stroke="#8b82c6" stroke-width="0.9" />
<line x1="250.40" y1="735.50" x2="258.00" y2="735.50" stroke="#8b82c6" stroke-width="0.9" />
<line x1="278.50" y1="736.20" x2="278.50" y2="758.30" stroke="#f28d05" stroke-width="0.9" />
<line x1="274.80" y1="736.50" x2="282.40" y2="736.50" stroke="#f28d05" stroke-width="0.9" />
<line x1="274.80" y1="758.50" x2="282.40" y2="758.50" stroke="#f28d05" stroke-width="0.9" />
<circle cx="254.20" cy="709.60" r="1.15" fill="#8b82c6" stroke="#8b82c6" stroke-width="0"/>
<circle cx="254.20" cy="716.00" r="1.15" fill="#8b82c6" stroke="#8b82c6" stroke-width="0"/>
<circle cx="248.70" cy="721.50" r="1.15" fill="#8b82c6" stroke="#8b82c6" stroke-width="0"/>
<circle cx="251.20" cy="721.50" r="1.15" fill="#8b82c6" stroke="#8b82c6" stroke-width="0"/>
<circle cx="254.20" cy="722.00" r="1.15" fill="#8b82c6" stroke="#8b82c6" stroke-width="0"/>
<circle cx="257.20" cy="721.50" r="1.15" fill="#8b82c6" stroke="#8b82c6" stroke-width="0"/>
<circle cx="259.70" cy="721.50" r="1.15" fill="#8b82c6" stroke="#8b82c6" stroke-width="0"/>
<circle cx="254.20" cy="729.00" r="1.15" fill="#8b82c6" stroke="#8b82c6" stroke-width="0"/>
<circle cx="252.70" cy="737.00" r="1.15" fill="#8b82c6" stroke="#8b82c6" stroke-width="0"/>
<circle cx="254.20" cy="745.20" r="1.15" fill="#8b82c6" stroke="#8b82c6" stroke-width="0"/>
<circle cx="278.60" cy="732.20" r="1.15" fill="#f28d05" stroke="#f28d05" stroke-width="0"/>
<circle cx="279.60" cy="739.50" r="1.15" fill="#f28d05" stroke="#f28d05" stroke-width="0"/>
<circle cx="274.10" cy="746.00" r="1.15" fill="#f28d05" stroke="#f28d05" stroke-width="0"/>
<circle cx="277.60" cy="746.00" r="1.15" fill="#f28d05" stroke="#f28d05" stroke-width="0"/>
<circle cx="283.10" cy="746.00" r="1.15" fill="#f28d05" stroke="#f28d05" stroke-width="0"/>
<circle cx="278.60" cy="752.00" r="1.15" fill="#f28d05" stroke="#f28d05" stroke-width="0"/>
<circle cx="279.60" cy="759.00" r="1.15" fill="#f28d05" stroke="#f28d05" stroke-width="0"/>
<circle cx="278.60" cy="766.10" r="1.15" fill="#f28d05" stroke="#f28d05" stroke-width="0"/>
<line x1="254.50" y1="781.40" x2="254.50" y2="784.40" stroke="#1e1e1e" stroke-width="0.9" />
<line x1="278.50" y1="781.40" x2="278.50" y2="784.40" stroke="#1e1e1e" stroke-width="0.9" />
<text x="254.20" y="795.20" font-size="7.3" text-anchor="middle" fill="#2a2a2a" >WT</text>
<text x="278.60" y="795.20" font-size="7.3" text-anchor="middle" fill="#2a2a2a" >S172fs</text>
<text x="266.90" y="675.70" font-size="10.0" text-anchor="middle" fill="#2a2a2a" textLength="45.0" lengthAdjust="spacingAndGlyphs" >Activity of</text>
<text x="266.90" y="687.70" font-size="10.0" text-anchor="middle" fill="#2a2a2a" textLength="51.2" lengthAdjust="spacingAndGlyphs" >Complex III</text>
<line x1="259.30" y1="698.50" x2="279.80" y2="698.50" stroke="#1e1e1e" stroke-width="1.1" />
<circle cx="266.15" cy="694.90" r="1.0" fill="#1e1e1e"/>
<circle cx="269.55" cy="694.90" r="1.0" fill="#1e1e1e"/>
<circle cx="272.95" cy="694.90" r="1.0" fill="#1e1e1e"/>
<line x1="322.50" y1="695.20" x2="322.50" y2="782.10" stroke="#1e1e1e" stroke-width="1.3" />
<line x1="319.50" y1="696.50" x2="322.50" y2="696.50" stroke="#1e1e1e" stroke-width="0.9" />
<text x="316.70" y="699.00" font-size="7.4" text-anchor="end" fill="#2a2a2a" >1.2</text>
<line x1="319.50" y1="739.50" x2="322.50" y2="739.50" stroke="#1e1e1e" stroke-width="0.9" />
<text x="316.70" y="741.60" font-size="7.4" text-anchor="end" fill="#2a2a2a" >0.6</text>
<line x1="319.50" y1="781.50" x2="322.50" y2="781.50" stroke="#1e1e1e" stroke-width="0.9" />
<text x="316.70" y="784.20" font-size="7.4" text-anchor="end" fill="#2a2a2a" >0.0</text>
<line x1="322.50" y1="781.50" x2="379.50" y2="781.50" stroke="#1e1e1e" stroke-width="1.3" />
<rect x="331.80" y="714.00" width="14.30" height="67.60" fill="none" stroke="#8b82c6" stroke-width="1.0"/>
<rect x="356.80" y="711.50" width="14.70" height="70.10" fill="none" stroke="#f28d05" stroke-width="1.0"/>
<line x1="338.50" y1="700.80" x2="338.50" y2="725.40" stroke="#8b82c6" stroke-width="0.9" />
<line x1="335.15" y1="700.50" x2="342.75" y2="700.50" stroke="#8b82c6" stroke-width="0.9" />
<line x1="335.15" y1="725.50" x2="342.75" y2="725.50" stroke="#8b82c6" stroke-width="0.9" />
<line x1="364.50" y1="703.20" x2="364.50" y2="718.60" stroke="#f28d05" stroke-width="0.9" />
<line x1="360.35" y1="703.50" x2="367.95" y2="703.50" stroke="#f28d05" stroke-width="0.9" />
<line x1="360.35" y1="718.50" x2="367.95" y2="718.50" stroke="#f28d05" stroke-width="0.9" />
<circle cx="335.95" cy="700.60" r="1.15" fill="#8b82c6" stroke="#8b82c6" stroke-width="0"/>
<circle cx="341.95" cy="700.60" r="1.15" fill="#8b82c6" stroke="#8b82c6" stroke-width="0"/>
<circle cx="335.95" cy="706.40" r="1.15" fill="#8b82c6" stroke="#8b82c6" stroke-width="0"/>
<circle cx="341.95" cy="706.90" r="1.15" fill="#8b82c6" stroke="#8b82c6" stroke-width="0"/>
<circle cx="335.95" cy="711.70" r="1.15" fill="#8b82c6" stroke="#8b82c6" stroke-width="0"/>
<circle cx="341.95" cy="712.20" r="1.15" fill="#8b82c6" stroke="#8b82c6" stroke-width="0"/>
<circle cx="338.95" cy="721.20" r="1.15" fill="#8b82c6" stroke="#8b82c6" stroke-width="0"/>
<circle cx="338.95" cy="737.60" r="1.15" fill="#8b82c6" stroke="#8b82c6" stroke-width="0"/>
<circle cx="360.85" cy="701.10" r="1.15" fill="#f28d05" stroke="#f28d05" stroke-width="0"/>
<circle cx="367.15" cy="701.10" r="1.15" fill="#f28d05" stroke="#f28d05" stroke-width="0"/>
<circle cx="361.15" cy="712.80" r="1.15" fill="#f28d05" stroke="#f28d05" stroke-width="0"/>
<circle cx="366.65" cy="712.80" r="1.15" fill="#f28d05" stroke="#f28d05" stroke-width="0"/>
<circle cx="360.85" cy="718.00" r="1.15" fill="#f28d05" stroke="#f28d05" stroke-width="0"/>
<circle cx="367.15" cy="718.00" r="1.15" fill="#f28d05" stroke="#f28d05" stroke-width="0"/>
<line x1="338.50" y1="781.60" x2="338.50" y2="784.60" stroke="#1e1e1e" stroke-width="0.9" />
<line x1="364.50" y1="781.60" x2="364.50" y2="784.60" stroke="#1e1e1e" stroke-width="0.9" />
<text x="338.95" y="795.20" font-size="7.3" text-anchor="middle" fill="#2a2a2a" >WT</text>
<text x="364.15" y="795.20" font-size="7.3" text-anchor="middle" fill="#2a2a2a" >S172fs</text>
<text x="351.10" y="675.70" font-size="10.0" text-anchor="middle" fill="#2a2a2a" textLength="44.9" lengthAdjust="spacingAndGlyphs" >Activity of</text>
<text x="351.10" y="687.70" font-size="10.0" text-anchor="middle" fill="#2a2a2a" textLength="51.4" lengthAdjust="spacingAndGlyphs" >Complex IV</text>
<line x1="424.50" y1="695.20" x2="424.50" y2="782.25" stroke="#1e1e1e" stroke-width="1.3" />
<line x1="421.50" y1="696.50" x2="424.50" y2="696.50" stroke="#1e1e1e" stroke-width="0.9" />
<text x="418.80" y="698.85" font-size="7.4" text-anchor="end" fill="#2a2a2a" >1.2</text>
<line x1="421.50" y1="739.50" x2="424.50" y2="739.50" stroke="#1e1e1e" stroke-width="0.9" />
<text x="418.80" y="741.60" font-size="7.4" text-anchor="end" fill="#2a2a2a" >0.6</text>
<line x1="421.50" y1="781.50" x2="424.50" y2="781.50" stroke="#1e1e1e" stroke-width="0.9" />
<text x="418.80" y="784.35" font-size="7.4" text-anchor="end" fill="#2a2a2a" >0.0</text>
<line x1="424.50" y1="781.50" x2="481.25" y2="781.50" stroke="#1e1e1e" stroke-width="1.3" />
<rect x="435.00" y="711.25" width="14.00" height="70.50" fill="none" stroke="#8b82c6" stroke-width="1.0"/>
<rect x="458.50" y="708.25" width="14.00" height="73.50" fill="none" stroke="#f28d05" stroke-width="1.0"/>
<line x1="442.50" y1="707.50" x2="442.50" y2="715.00" stroke="#8b82c6" stroke-width="0.9" />
<line x1="438.20" y1="707.50" x2="445.80" y2="707.50" stroke="#8b82c6" stroke-width="0.9" />
<line x1="438.20" y1="715.50" x2="445.80" y2="715.50" stroke="#8b82c6" stroke-width="0.9" />
<line x1="465.50" y1="702.00" x2="465.50" y2="714.50" stroke="#f28d05" stroke-width="0.9" />
<line x1="461.70" y1="702.50" x2="469.30" y2="702.50" stroke="#f28d05" stroke-width="0.9" />
<line x1="461.70" y1="714.50" x2="469.30" y2="714.50" stroke="#f28d05" stroke-width="0.9" />
<circle cx="437.00" cy="705.50" r="1.15" fill="#8b82c6" stroke="#8b82c6" stroke-width="0"/>
<circle cx="439.50" cy="707.00" r="1.15" fill="#8b82c6" stroke="#8b82c6" stroke-width="0"/>
<circle cx="442.00" cy="706.00" r="1.15" fill="#8b82c6" stroke="#8b82c6" stroke-width="0"/>
<circle cx="444.50" cy="708.00" r="1.15" fill="#8b82c6" stroke="#8b82c6" stroke-width="0"/>
<circle cx="447.00" cy="705.00" r="1.15" fill="#8b82c6" stroke="#8b82c6" stroke-width="0"/>
<circle cx="438.00" cy="711.00" r="1.15" fill="#8b82c6" stroke="#8b82c6" stroke-width="0"/>
<circle cx="441.00" cy="712.50" r="1.15" fill="#8b82c6" stroke="#8b82c6" stroke-width="0"/>
<circle cx="444.00" cy="713.50" r="1.15" fill="#8b82c6" stroke="#8b82c6" stroke-width="0"/>
<circle cx="446.50" cy="711.00" r="1.15" fill="#8b82c6" stroke="#8b82c6" stroke-width="0"/>
<circle cx="442.00" cy="716.00" r="1.15" fill="#8b82c6" stroke="#8b82c6" stroke-width="0"/>
<circle cx="440.00" cy="718.00" r="1.15" fill="#8b82c6" stroke="#8b82c6" stroke-width="0"/>
<circle cx="465.50" cy="702.30" r="1.15" fill="#f28d05" stroke="#f28d05" stroke-width="0"/>
<circle cx="465.50" cy="708.50" r="1.15" fill="#f28d05" stroke="#f28d05" stroke-width="0"/>
<circle cx="463.50" cy="712.50" r="1.15" fill="#f28d05" stroke="#f28d05" stroke-width="0"/>
<circle cx="467.50" cy="714.30" r="1.15" fill="#f28d05" stroke="#f28d05" stroke-width="0"/>
<line x1="442.50" y1="781.75" x2="442.50" y2="784.75" stroke="#1e1e1e" stroke-width="0.9" />
<line x1="465.50" y1="781.75" x2="465.50" y2="784.75" stroke="#1e1e1e" stroke-width="0.9" />
<text x="442.00" y="795.20" font-size="7.3" text-anchor="middle" fill="#2a2a2a" >WT</text>
<text x="465.50" y="795.20" font-size="7.3" text-anchor="middle" fill="#2a2a2a" >S172fs</text>
<text x="452.50" y="687.70" font-size="10.0" text-anchor="middle" fill="#2a2a2a" textLength="41.0" lengthAdjust="spacingAndGlyphs" >ATP level</text>
</svg>
</body></html>
